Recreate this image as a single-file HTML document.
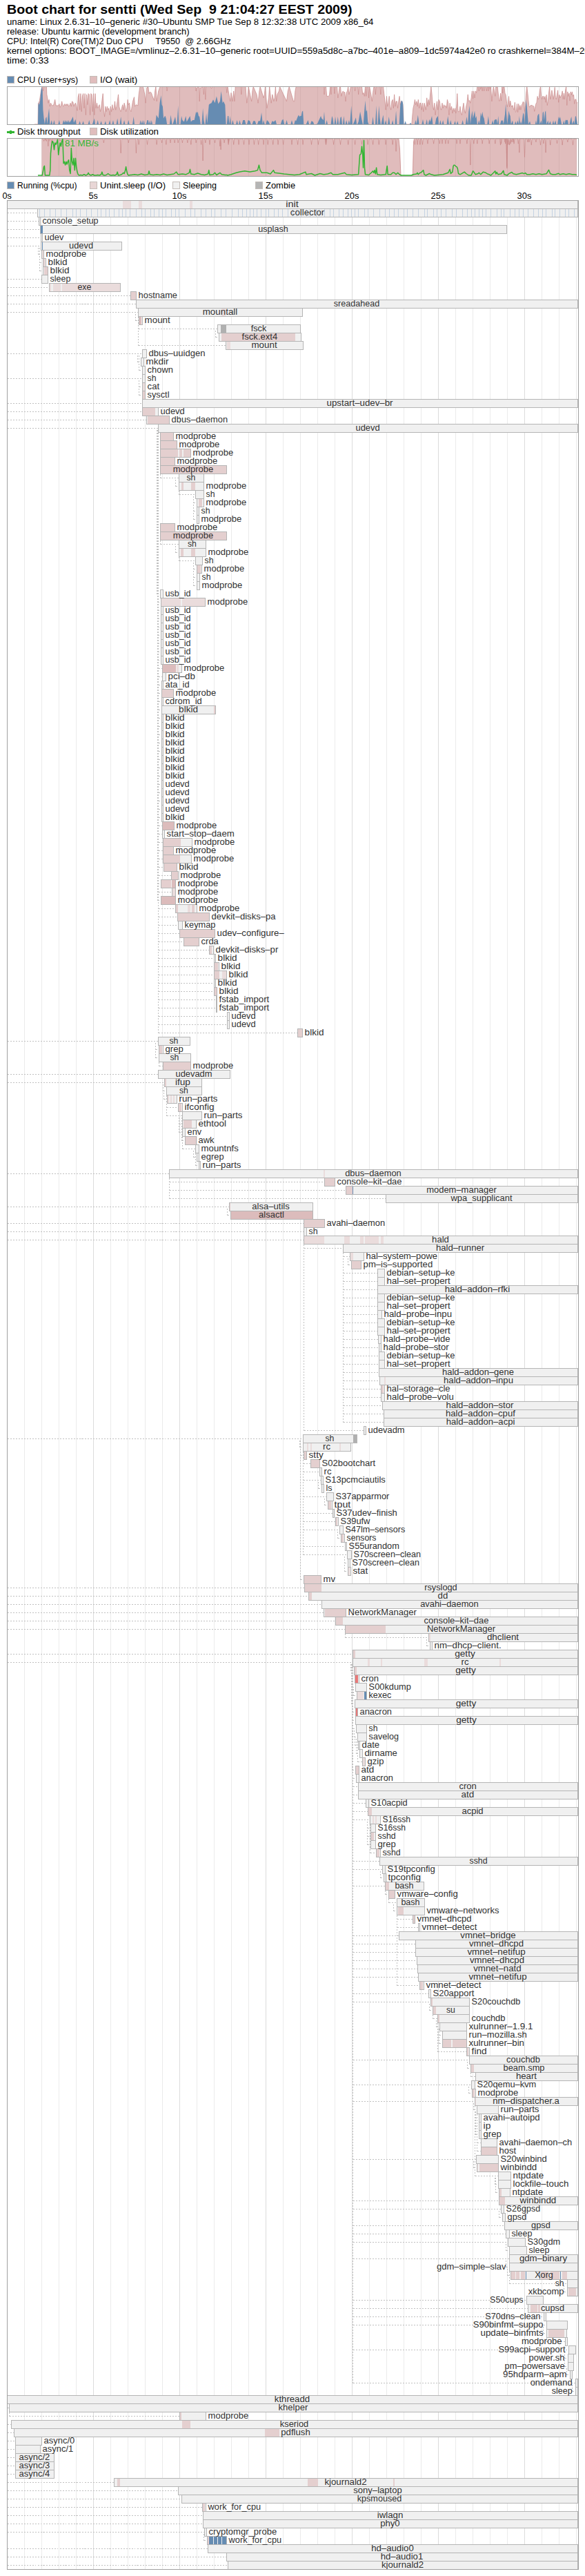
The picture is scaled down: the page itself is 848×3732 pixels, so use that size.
<!DOCTYPE html>
<html><head><meta charset="utf-8"><title>Boot chart</title>
<style>html,body{margin:0;padding:0;background:#fff;width:848px;height:3732px;overflow:hidden}svg{display:block}text{font-family:"Liberation Sans",sans-serif;white-space:pre}</style>
</head><body>
<svg width="848" height="3732" viewBox="0 0 848 3732" font-family='"Liberation Sans", sans-serif' font-size="12.5" shape-rendering="crispEdges">
<rect x="0" y="0" width="848" height="3732" fill="#fff"/>
<text x="10.0" y="20.0" textLength="500.5" lengthAdjust="spacingAndGlyphs" font-size="18.5" font-weight="bold">Boot chart for sentti (Wed Sep  9 21:04:27 EEST 2009)</text>
<text x="10.0" y="36.0" textLength="531.5" lengthAdjust="spacingAndGlyphs">uname: Linux 2.6.31–10–generic #30–Ubuntu SMP Tue Sep 8 12:32:38 UTC 2009 x86_64</text>
<text x="10.0" y="50.0" textLength="264.6" lengthAdjust="spacingAndGlyphs">release: Ubuntu karmic (development branch)</text>
<text x="10.0" y="64.0" textLength="324.8" lengthAdjust="spacingAndGlyphs">CPU: Intel(R) Core(TM)2 Duo CPU     T9550  @ 2.66GHz</text>
<text x="10.0" y="78.0" textLength="991.8" lengthAdjust="spacingAndGlyphs">kernel options: BOOT_IMAGE=/vmlinuz–2.6.31–10–generic root=UUID=559a5d8c–a7bc–401e–a809–1dc5974a42e0 ro crashkernel=384M–2G:64M@16M quiet splash</text>
<text x="10.0" y="92.0" textLength="60.8" lengthAdjust="spacingAndGlyphs">time: 0:33</text>
<rect x="10.5" y="110.5" width="10" height="10" fill="rgb(102,140,178)" stroke="#c4bcb8"/>
<text x="25.0" y="120.0" textLength="88.2" lengthAdjust="spacingAndGlyphs">CPU (user+sys)</text>
<rect x="130.5" y="110.5" width="10" height="10" fill="rgb(224,189,189)" stroke="#c4bcb8"/>
<text x="145.0" y="120.0" textLength="54.1" lengthAdjust="spacingAndGlyphs">I/O (wait)</text>
<rect x="10" y="125" width="828" height="55" fill="#fff"/>
<line x1="35.5" y1="126" x2="35.5" y2="180" stroke="#ebebeb" stroke-width="1"/>
<line x1="60.5" y1="126" x2="60.5" y2="180" stroke="#ebebeb" stroke-width="1"/>
<line x1="85.5" y1="126" x2="85.5" y2="180" stroke="#ebebeb" stroke-width="1"/>
<line x1="110.5" y1="126" x2="110.5" y2="180" stroke="#ebebeb" stroke-width="1"/>
<line x1="135.5" y1="126" x2="135.5" y2="180" stroke="#dcdcdc" stroke-width="1"/>
<line x1="160.5" y1="126" x2="160.5" y2="180" stroke="#ebebeb" stroke-width="1"/>
<line x1="185.5" y1="126" x2="185.5" y2="180" stroke="#ebebeb" stroke-width="1"/>
<line x1="210.5" y1="126" x2="210.5" y2="180" stroke="#ebebeb" stroke-width="1"/>
<line x1="235.5" y1="126" x2="235.5" y2="180" stroke="#ebebeb" stroke-width="1"/>
<line x1="260.5" y1="126" x2="260.5" y2="180" stroke="#dcdcdc" stroke-width="1"/>
<line x1="285.5" y1="126" x2="285.5" y2="180" stroke="#ebebeb" stroke-width="1"/>
<line x1="310.5" y1="126" x2="310.5" y2="180" stroke="#ebebeb" stroke-width="1"/>
<line x1="335.5" y1="126" x2="335.5" y2="180" stroke="#ebebeb" stroke-width="1"/>
<line x1="360.5" y1="126" x2="360.5" y2="180" stroke="#ebebeb" stroke-width="1"/>
<line x1="385.5" y1="126" x2="385.5" y2="180" stroke="#dcdcdc" stroke-width="1"/>
<line x1="410.5" y1="126" x2="410.5" y2="180" stroke="#ebebeb" stroke-width="1"/>
<line x1="435.5" y1="126" x2="435.5" y2="180" stroke="#ebebeb" stroke-width="1"/>
<line x1="460.5" y1="126" x2="460.5" y2="180" stroke="#ebebeb" stroke-width="1"/>
<line x1="485.5" y1="126" x2="485.5" y2="180" stroke="#ebebeb" stroke-width="1"/>
<line x1="510.5" y1="126" x2="510.5" y2="180" stroke="#dcdcdc" stroke-width="1"/>
<line x1="535.5" y1="126" x2="535.5" y2="180" stroke="#ebebeb" stroke-width="1"/>
<line x1="560.5" y1="126" x2="560.5" y2="180" stroke="#ebebeb" stroke-width="1"/>
<line x1="585.5" y1="126" x2="585.5" y2="180" stroke="#ebebeb" stroke-width="1"/>
<line x1="610.5" y1="126" x2="610.5" y2="180" stroke="#ebebeb" stroke-width="1"/>
<line x1="635.5" y1="126" x2="635.5" y2="180" stroke="#dcdcdc" stroke-width="1"/>
<line x1="660.5" y1="126" x2="660.5" y2="180" stroke="#ebebeb" stroke-width="1"/>
<line x1="685.5" y1="126" x2="685.5" y2="180" stroke="#ebebeb" stroke-width="1"/>
<line x1="710.5" y1="126" x2="710.5" y2="180" stroke="#ebebeb" stroke-width="1"/>
<line x1="735.5" y1="126" x2="735.5" y2="180" stroke="#ebebeb" stroke-width="1"/>
<line x1="760.5" y1="126" x2="760.5" y2="180" stroke="#dcdcdc" stroke-width="1"/>
<line x1="785.5" y1="126" x2="785.5" y2="180" stroke="#ebebeb" stroke-width="1"/>
<line x1="810.5" y1="126" x2="810.5" y2="180" stroke="#ebebeb" stroke-width="1"/>
<line x1="835.5" y1="126" x2="835.5" y2="180" stroke="#ebebeb" stroke-width="1"/>
<g shape-rendering="auto"><polygon points="50.0,180.0 50.0,180.0 55.0,180.0 55.5,149.3 56.2,149.3 57.4,145.5 58.7,136.9 59.9,129.4 61.2,125.5 61.7,125.5 62.4,131.9 63.1,125.5 63.6,125.5 64.9,125.5 66.1,125.5 67.4,125.5 67.8,136.9 68.6,140.6 69.8,149.3 71.1,144.3 72.3,154.2 73.5,149.3 74.8,151.7 76.0,153.0 77.3,153.0 78.5,149.3 79.7,144.3 81.0,153.0 82.2,153.0 83.5,153.0 84.7,153.0 85.9,150.5 87.2,155.5 88.4,153.0 89.7,146.8 90.9,153.0 92.1,154.2 93.4,150.5 94.6,153.0 95.9,150.5 97.1,153.0 98.3,150.5 99.6,154.2 100.8,153.0 102.1,149.3 103.3,154.2 104.5,146.8 105.8,148.0 107.0,154.2 108.3,150.5 109.5,149.3 110.7,153.0 112.0,160.4 113.2,140.6 114.5,135.6 115.7,159.2 116.9,135.6 118.2,161.7 119.4,139.4 120.6,135.6 121.9,156.7 123.1,135.6 124.4,166.6 125.6,136.9 126.8,151.7 128.1,135.6 129.3,136.9 130.6,166.6 131.8,135.6 133.0,136.9 134.3,161.7 135.5,135.6 136.8,166.6 138.0,135.6 139.2,156.7 140.5,149.3 141.7,156.7 143.0,154.2 144.2,151.7 145.4,161.7 146.7,156.7 147.9,145.5 149.2,135.6 150.4,159.2 151.6,169.1 152.9,154.2 154.1,161.7 155.4,154.2 156.6,159.2 157.8,156.7 159.1,166.6 160.3,154.2 161.6,161.7 162.8,151.7 164.0,159.2 165.3,156.7 166.5,146.8 167.7,159.2 169.0,154.2 170.2,146.8 171.5,136.9 172.7,154.2 173.9,159.2 175.2,161.7 176.4,156.7 177.7,151.7 178.9,159.2 180.1,149.3 181.4,154.2 182.6,161.7 183.9,156.7 185.1,144.3 186.3,151.7 187.6,149.3 188.8,159.2 190.0,161.7 192.5,146.8 194.5,140.6 195.5,154.2 197.4,151.7 199.9,153.0 201.2,136.9 202.9,125.5 204.9,125.5 207.4,125.5 209.8,136.9 211.1,149.3 212.8,127.0 214.8,125.5 216.0,135.6 217.3,133.2 219.3,134.4 221.0,139.4 223.5,145.5 224.7,131.9 225.9,125.5 227.2,146.8 229.7,131.9 232.1,125.5 239.6,125.5 241.4,125.5 242.1,131.9 242.8,125.5 243.3,125.5 283.0,125.5 283.5,125.5 284.2,131.9 284.9,127.0 285.4,127.0 287.9,125.5 288.5,125.5 289.2,146.8 289.9,127.0 291.6,127.0 294.1,125.5 294.7,125.5 295.4,136.9 296.1,125.5 296.6,125.5 297.1,125.5 297.8,144.3 298.5,125.5 300.3,125.5 305.3,125.5 306.5,128.2 307.7,125.5 327.6,125.5 328.1,125.5 328.8,134.4 329.5,125.5 330.0,125.5 333.7,146.8 335.0,134.4 336.9,146.8 338.7,131.9 339.9,146.8 341.2,125.5 348.6,125.5 349.1,125.5 349.8,136.9 350.5,125.5 351.1,125.5 356.0,125.5 357.8,149.3 359.3,136.9 360.2,125.5 363.5,141.8 364.7,146.8 365.9,131.9 367.2,125.5 372.1,136.9 374.1,149.3 375.9,131.9 377.1,125.5 382.1,141.8 383.3,136.9 384.5,125.5 387.0,156.7 389.5,141.8 390.7,125.5 393.2,149.3 394.9,136.9 396.9,146.8 398.2,141.8 399.4,125.5 400.6,146.8 401.9,136.9 404.4,131.9 405.6,125.5 415.5,146.8 417.3,131.9 419.2,125.5 425.4,146.8 426.7,146.8 427.9,131.9 429.2,125.5 468.8,125.5 469.3,125.5 470.0,136.9 470.7,125.5 472.5,125.5 473.7,139.4 476.2,139.4 477.4,138.1 478.7,125.5 479.2,125.5 479.9,136.9 480.6,125.5 481.2,125.5 483.6,125.5 484.2,125.5 484.9,135.6 485.6,125.5 486.1,125.5 488.6,125.5 489.8,141.8 491.1,134.4 492.3,125.5 493.5,125.5 494.8,139.4 496.0,134.4 497.3,131.9 498.5,134.4 499.7,133.2 501.0,146.8 502.2,134.4 503.5,131.9 504.7,125.5 505.9,136.9 507.2,131.9 508.4,125.5 510.9,125.5 513.4,125.5 513.9,125.5 514.6,131.9 515.3,125.5 517.1,125.5 518.9,125.5 519.6,136.9 520.3,125.5 520.8,125.5 524.5,125.5 525.8,136.9 527.0,134.4 528.3,139.4 529.5,125.5 530.0,125.5 530.7,139.4 531.4,125.5 532.0,125.5 533.8,125.5 534.5,141.8 535.2,125.5 535.7,125.5 538.2,139.4 539.4,146.8 540.6,134.4 541.9,125.5 543.7,125.5 544.4,136.9 545.1,125.5 545.6,125.5 549.3,125.5 551.1,125.5 551.8,136.9 552.5,125.5 554.3,125.5 555.5,125.5 558.0,146.8 559.2,159.2 560.5,139.4 561.7,154.2 563.0,149.3 564.2,139.4 565.4,154.2 566.7,159.2 567.9,146.8 569.2,144.3 570.4,156.7 571.6,136.9 572.9,154.2 574.1,146.8 575.4,146.8 576.6,156.7 577.8,146.8 579.1,139.4 580.3,151.7 581.6,146.8 582.8,146.8 584.0,151.7 585.0,180.0 596.9,180.0 597.7,169.1 598.9,156.7 600.1,151.7 601.4,144.3 602.6,151.7 603.9,146.8 605.1,154.2 606.3,144.3 607.6,156.7 608.8,149.3 610.0,149.3 611.2,159.2 612.5,149.3 613.7,161.7 615.0,149.3 616.2,154.2 617.4,159.2 618.7,141.8 619.9,154.2 621.2,144.3 622.4,151.7 623.6,136.9 624.9,125.5 626.1,136.9 627.4,154.2 628.6,159.2 629.8,149.3 631.1,166.6 632.3,154.2 633.5,146.8 634.8,159.2 636.0,144.3 637.3,146.8 638.5,156.7 639.7,159.2 641.0,149.3 642.2,156.7 643.5,151.7 644.7,154.2 645.9,153.0 647.2,156.7 648.4,144.3 649.7,149.3 650.9,166.6 652.1,149.3 653.4,159.2 654.6,154.2 655.9,164.1 657.1,156.7 658.3,161.7 659.6,156.7 660.8,164.1 662.1,149.3 662.8,135.6 664.0,161.7 665.8,161.7 667.0,154.2 668.3,164.1 669.5,166.6 670.7,156.7 672.0,149.3 673.2,159.2 674.5,164.1 675.7,154.2 676.9,149.3 678.2,136.9 679.4,146.8 680.6,145.5 681.9,149.3 683.1,141.8 684.4,131.9 685.6,143.1 686.8,131.9 688.1,141.8 689.3,131.9 690.6,134.4 691.8,125.5 693.0,125.5 693.6,125.5 694.3,131.9 695.0,125.5 695.5,125.5 696.1,125.5 696.8,129.4 697.5,125.5 698.0,125.5 698.5,125.5 699.2,131.9 699.9,125.5 700.5,125.5 701.0,125.5 701.7,131.9 702.4,125.5 703.0,125.5 704.2,125.5 704.7,125.5 705.4,131.9 706.1,125.5 706.7,125.5 707.2,125.5 707.9,131.9 708.6,125.5 709.2,125.5 709.7,125.5 710.4,129.4 711.1,125.5 711.6,125.5 712.9,146.8 714.1,134.4 715.4,125.5 716.6,131.9 717.8,139.4 718.8,125.5 719.1,125.5 720.0,126.4 721.1,125.5 722.2,135.1 723.3,146.1 724.4,146.1 725.5,135.1 726.6,146.1 727.7,125.5 728.1,125.5 728.8,135.1 729.5,125.5 729.8,125.5 730.9,125.5 732.0,135.1 733.1,137.3 734.2,146.1 735.3,154.8 736.4,150.4 737.5,139.5 738.6,154.8 739.7,146.1 740.8,152.6 741.9,154.8 743.0,152.6 744.1,157.0 745.2,159.2 746.3,148.3 747.4,162.5 748.4,161.4 749.5,150.4 750.6,162.5 751.7,150.4 752.8,159.2 753.9,152.6 755.0,159.2 756.1,152.6 757.2,150.4 758.3,147.2 759.4,148.3 760.5,161.4 761.6,152.6 762.7,135.1 763.8,125.5 764.9,135.1 766.0,146.1 767.0,154.8 768.1,154.8 769.2,152.6 770.3,152.6 771.4,152.6 772.5,153.7 773.6,153.7 774.7,161.4 775.8,154.8 776.9,150.4 778.0,148.3 779.1,139.5 780.2,143.9 781.3,141.7 782.4,130.8 783.5,125.5 784.6,139.5 785.6,143.9 786.7,139.5 787.8,139.5 788.9,143.9 790.0,139.5 791.1,148.3 792.2,137.3 793.3,152.6 794.4,146.1 795.5,135.1 796.6,125.5 797.7,143.9 798.8,139.5 799.9,130.8 801.0,137.3 802.1,143.9 803.2,137.3 804.2,126.4 805.3,141.7 806.4,143.9 807.5,137.3 808.6,130.8 809.7,148.3 810.8,137.3 811.9,141.7 813.0,139.5 814.1,137.3 815.2,131.8 816.3,143.9 817.4,135.1 818.5,143.9 819.6,130.8 820.7,125.5 821.8,152.6 822.8,132.9 823.9,139.5 825.0,135.1 826.1,146.1 827.2,132.9 828.3,137.3 829.4,132.9 830.5,139.5 831.6,137.3 832.7,150.4 833.8,143.9 834.9,143.9 836.0,149.4 837.1,148.3 837.1,180.0" fill="rgb(194,122,122)" fill-opacity="0.5"/>
<polyline points="50.0,180.0 55.0,180.0 55.5,149.3 56.2,149.3 57.4,145.5 58.7,136.9 59.9,129.4 61.2,125.5 61.7,125.5 62.4,131.9 63.1,125.5 63.6,125.5 64.9,125.5 66.1,125.5 67.4,125.5 67.8,136.9 68.6,140.6 69.8,149.3 71.1,144.3 72.3,154.2 73.5,149.3 74.8,151.7 76.0,153.0 77.3,153.0 78.5,149.3 79.7,144.3 81.0,153.0 82.2,153.0 83.5,153.0 84.7,153.0 85.9,150.5 87.2,155.5 88.4,153.0 89.7,146.8 90.9,153.0 92.1,154.2 93.4,150.5 94.6,153.0 95.9,150.5 97.1,153.0 98.3,150.5 99.6,154.2 100.8,153.0 102.1,149.3 103.3,154.2 104.5,146.8 105.8,148.0 107.0,154.2 108.3,150.5 109.5,149.3 110.7,153.0 112.0,160.4 113.2,140.6 114.5,135.6 115.7,159.2 116.9,135.6 118.2,161.7 119.4,139.4 120.6,135.6 121.9,156.7 123.1,135.6 124.4,166.6 125.6,136.9 126.8,151.7 128.1,135.6 129.3,136.9 130.6,166.6 131.8,135.6 133.0,136.9 134.3,161.7 135.5,135.6 136.8,166.6 138.0,135.6 139.2,156.7 140.5,149.3 141.7,156.7 143.0,154.2 144.2,151.7 145.4,161.7 146.7,156.7 147.9,145.5 149.2,135.6 150.4,159.2 151.6,169.1 152.9,154.2 154.1,161.7 155.4,154.2 156.6,159.2 157.8,156.7 159.1,166.6 160.3,154.2 161.6,161.7 162.8,151.7 164.0,159.2 165.3,156.7 166.5,146.8 167.7,159.2 169.0,154.2 170.2,146.8 171.5,136.9 172.7,154.2 173.9,159.2 175.2,161.7 176.4,156.7 177.7,151.7 178.9,159.2 180.1,149.3 181.4,154.2 182.6,161.7 183.9,156.7 185.1,144.3 186.3,151.7 187.6,149.3 188.8,159.2 190.0,161.7 192.5,146.8 194.5,140.6 195.5,154.2 197.4,151.7 199.9,153.0 201.2,136.9 202.9,125.5 204.9,125.5 207.4,125.5 209.8,136.9 211.1,149.3 212.8,127.0 214.8,125.5 216.0,135.6 217.3,133.2 219.3,134.4 221.0,139.4 223.5,145.5 224.7,131.9 225.9,125.5 227.2,146.8 229.7,131.9 232.1,125.5 239.6,125.5 241.4,125.5 242.1,131.9 242.8,125.5 243.3,125.5 283.0,125.5 283.5,125.5 284.2,131.9 284.9,127.0 285.4,127.0 287.9,125.5 288.5,125.5 289.2,146.8 289.9,127.0 291.6,127.0 294.1,125.5 294.7,125.5 295.4,136.9 296.1,125.5 296.6,125.5 297.1,125.5 297.8,144.3 298.5,125.5 300.3,125.5 305.3,125.5 306.5,128.2 307.7,125.5 327.6,125.5 328.1,125.5 328.8,134.4 329.5,125.5 330.0,125.5 333.7,146.8 335.0,134.4 336.9,146.8 338.7,131.9 339.9,146.8 341.2,125.5 348.6,125.5 349.1,125.5 349.8,136.9 350.5,125.5 351.1,125.5 356.0,125.5 357.8,149.3 359.3,136.9 360.2,125.5 363.5,141.8 364.7,146.8 365.9,131.9 367.2,125.5 372.1,136.9 374.1,149.3 375.9,131.9 377.1,125.5 382.1,141.8 383.3,136.9 384.5,125.5 387.0,156.7 389.5,141.8 390.7,125.5 393.2,149.3 394.9,136.9 396.9,146.8 398.2,141.8 399.4,125.5 400.6,146.8 401.9,136.9 404.4,131.9 405.6,125.5 415.5,146.8 417.3,131.9 419.2,125.5 425.4,146.8 426.7,146.8 427.9,131.9 429.2,125.5 468.8,125.5 469.3,125.5 470.0,136.9 470.7,125.5 472.5,125.5 473.7,139.4 476.2,139.4 477.4,138.1 478.7,125.5 479.2,125.5 479.9,136.9 480.6,125.5 481.2,125.5 483.6,125.5 484.2,125.5 484.9,135.6 485.6,125.5 486.1,125.5 488.6,125.5 489.8,141.8 491.1,134.4 492.3,125.5 493.5,125.5 494.8,139.4 496.0,134.4 497.3,131.9 498.5,134.4 499.7,133.2 501.0,146.8 502.2,134.4 503.5,131.9 504.7,125.5 505.9,136.9 507.2,131.9 508.4,125.5 510.9,125.5 513.4,125.5 513.9,125.5 514.6,131.9 515.3,125.5 517.1,125.5 518.9,125.5 519.6,136.9 520.3,125.5 520.8,125.5 524.5,125.5 525.8,136.9 527.0,134.4 528.3,139.4 529.5,125.5 530.0,125.5 530.7,139.4 531.4,125.5 532.0,125.5 533.8,125.5 534.5,141.8 535.2,125.5 535.7,125.5 538.2,139.4 539.4,146.8 540.6,134.4 541.9,125.5 543.7,125.5 544.4,136.9 545.1,125.5 545.6,125.5 549.3,125.5 551.1,125.5 551.8,136.9 552.5,125.5 554.3,125.5 555.5,125.5 558.0,146.8 559.2,159.2 560.5,139.4 561.7,154.2 563.0,149.3 564.2,139.4 565.4,154.2 566.7,159.2 567.9,146.8 569.2,144.3 570.4,156.7 571.6,136.9 572.9,154.2 574.1,146.8 575.4,146.8 576.6,156.7 577.8,146.8 579.1,139.4 580.3,151.7 581.6,146.8 582.8,146.8 584.0,151.7 585.0,180.0 596.9,180.0 597.7,169.1 598.9,156.7 600.1,151.7 601.4,144.3 602.6,151.7 603.9,146.8 605.1,154.2 606.3,144.3 607.6,156.7 608.8,149.3 610.0,149.3 611.2,159.2 612.5,149.3 613.7,161.7 615.0,149.3 616.2,154.2 617.4,159.2 618.7,141.8 619.9,154.2 621.2,144.3 622.4,151.7 623.6,136.9 624.9,125.5 626.1,136.9 627.4,154.2 628.6,159.2 629.8,149.3 631.1,166.6 632.3,154.2 633.5,146.8 634.8,159.2 636.0,144.3 637.3,146.8 638.5,156.7 639.7,159.2 641.0,149.3 642.2,156.7 643.5,151.7 644.7,154.2 645.9,153.0 647.2,156.7 648.4,144.3 649.7,149.3 650.9,166.6 652.1,149.3 653.4,159.2 654.6,154.2 655.9,164.1 657.1,156.7 658.3,161.7 659.6,156.7 660.8,164.1 662.1,149.3 662.8,135.6 664.0,161.7 665.8,161.7 667.0,154.2 668.3,164.1 669.5,166.6 670.7,156.7 672.0,149.3 673.2,159.2 674.5,164.1 675.7,154.2 676.9,149.3 678.2,136.9 679.4,146.8 680.6,145.5 681.9,149.3 683.1,141.8 684.4,131.9 685.6,143.1 686.8,131.9 688.1,141.8 689.3,131.9 690.6,134.4 691.8,125.5 693.0,125.5 693.6,125.5 694.3,131.9 695.0,125.5 695.5,125.5 696.1,125.5 696.8,129.4 697.5,125.5 698.0,125.5 698.5,125.5 699.2,131.9 699.9,125.5 700.5,125.5 701.0,125.5 701.7,131.9 702.4,125.5 703.0,125.5 704.2,125.5 704.7,125.5 705.4,131.9 706.1,125.5 706.7,125.5 707.2,125.5 707.9,131.9 708.6,125.5 709.2,125.5 709.7,125.5 710.4,129.4 711.1,125.5 711.6,125.5 712.9,146.8 714.1,134.4 715.4,125.5 716.6,131.9 717.8,139.4 718.8,125.5 719.1,125.5 720.0,126.4 721.1,125.5 722.2,135.1 723.3,146.1 724.4,146.1 725.5,135.1 726.6,146.1 727.7,125.5 728.1,125.5 728.8,135.1 729.5,125.5 729.8,125.5 730.9,125.5 732.0,135.1 733.1,137.3 734.2,146.1 735.3,154.8 736.4,150.4 737.5,139.5 738.6,154.8 739.7,146.1 740.8,152.6 741.9,154.8 743.0,152.6 744.1,157.0 745.2,159.2 746.3,148.3 747.4,162.5 748.4,161.4 749.5,150.4 750.6,162.5 751.7,150.4 752.8,159.2 753.9,152.6 755.0,159.2 756.1,152.6 757.2,150.4 758.3,147.2 759.4,148.3 760.5,161.4 761.6,152.6 762.7,135.1 763.8,125.5 764.9,135.1 766.0,146.1 767.0,154.8 768.1,154.8 769.2,152.6 770.3,152.6 771.4,152.6 772.5,153.7 773.6,153.7 774.7,161.4 775.8,154.8 776.9,150.4 778.0,148.3 779.1,139.5 780.2,143.9 781.3,141.7 782.4,130.8 783.5,125.5 784.6,139.5 785.6,143.9 786.7,139.5 787.8,139.5 788.9,143.9 790.0,139.5 791.1,148.3 792.2,137.3 793.3,152.6 794.4,146.1 795.5,135.1 796.6,125.5 797.7,143.9 798.8,139.5 799.9,130.8 801.0,137.3 802.1,143.9 803.2,137.3 804.2,126.4 805.3,141.7 806.4,143.9 807.5,137.3 808.6,130.8 809.7,148.3 810.8,137.3 811.9,141.7 813.0,139.5 814.1,137.3 815.2,131.8 816.3,143.9 817.4,135.1 818.5,143.9 819.6,130.8 820.7,125.5 821.8,152.6 822.8,132.9 823.9,139.5 825.0,135.1 826.1,146.1 827.2,132.9 828.3,137.3 829.4,132.9 830.5,139.5 831.6,137.3 832.7,150.4 833.8,143.9 834.9,143.9 836.0,149.4 837.1,148.3" fill="none" stroke="rgb(200,136,136)" stroke-width="0.7"/>
<polygon points="50.0,180.0 50.0,180.0 55.0,180.0 55.5,149.3 56.9,151.7 58.2,145.5 59.4,131.9 60.7,125.5 61.7,131.9 62.4,159.2 63.6,171.6 64.9,180.0 66.1,171.6 67.4,169.1 68.6,180.0 69.8,166.6 71.1,156.7 72.3,180.0 73.2,180.0 74.8,174.1 76.0,180.0 76.9,180.0 78.5,174.1 79.7,180.0 84.3,180.0 85.9,174.1 87.2,180.0 90.5,180.0 92.1,174.1 93.4,177.8 94.6,174.1 95.9,177.8 97.1,174.1 98.3,177.8 99.6,174.1 100.8,177.8 103.3,174.1 105.8,169.1 107.0,177.8 109.5,172.8 110.7,180.0 114.1,180.0 115.7,175.3 116.9,180.0 119.0,180.0 120.6,175.3 121.9,180.0 127.7,180.0 129.3,174.1 130.6,180.0 133.9,180.0 135.5,175.3 136.8,171.6 138.0,180.0 140.1,180.0 141.7,174.1 143.0,180.0 145.1,180.0 146.7,175.3 147.9,180.0 151.3,180.0 152.9,175.3 154.1,180.0 157.5,180.0 159.1,174.1 160.3,180.0 162.4,180.0 164.0,174.1 165.3,180.0 168.6,180.0 170.2,171.6 171.5,180.0 173.6,180.0 175.2,169.1 176.4,180.0 178.5,180.0 180.1,174.1 181.4,180.0 184.7,180.0 186.3,174.1 187.6,180.0 188.8,180.0 190.0,180.0 191.2,180.0 192.1,180.0 193.7,169.1 195.0,180.0 202.4,180.0 203.6,174.1 204.9,180.0 206.1,174.1 207.4,180.0 208.6,174.1 209.8,180.0 211.9,180.0 213.5,174.1 214.8,174.1 216.0,180.0 217.3,174.1 218.5,180.0 219.7,174.1 221.0,180.0 225.1,180.0 226.7,166.6 229.7,171.6 231.6,149.3 233.4,138.1 234.6,151.7 235.9,154.2 237.1,171.6 238.3,169.1 239.6,167.9 240.8,171.6 242.1,180.0 245.9,180.0 247.5,166.6 249.5,180.0 250.4,180.0 252.0,175.3 254.0,169.1 255.7,180.0 256.6,180.0 258.2,153.0 259.4,180.0 261.5,180.0 263.1,167.9 264.4,174.1 266.8,176.5 269.3,167.9 270.6,176.5 275.5,167.9 276.8,176.5 279.2,174.1 281.7,174.1 284.2,161.7 285.4,164.1 286.7,161.7 287.9,167.9 289.2,169.1 290.8,180.0 291.6,180.0 292.5,180.0 294.1,156.7 295.4,174.1 296.6,180.0 297.5,180.0 299.1,164.1 300.3,179.0 302.8,151.7 304.0,150.5 306.5,149.3 309.0,144.3 311.5,149.3 313.9,139.4 316.4,150.5 318.9,146.8 320.6,131.9 322.6,149.3 323.9,146.8 326.3,151.7 327.6,180.0 328.8,180.0 330.0,167.9 331.2,167.9 332.5,180.0 333.7,167.9 335.0,180.0 335.8,180.0 337.4,174.1 339.0,180.0 339.9,180.0 342.0,180.0 343.6,174.1 345.2,180.0 346.1,180.0 347.4,174.1 349.0,180.0 349.8,180.0 350.7,180.0 352.3,174.1 354.8,174.1 356.4,180.0 357.3,180.0 358.1,180.0 359.7,174.1 362.2,175.3 363.8,180.0 364.7,180.0 365.6,180.0 367.2,175.3 369.7,175.3 371.3,180.0 372.1,180.0 373.0,180.0 374.6,175.3 377.1,175.3 379.1,162.9 380.8,180.0 382.1,174.1 383.7,180.0 384.5,180.0 385.4,180.0 387.0,174.1 389.5,176.5 391.1,180.0 392.0,180.0 392.9,180.0 394.5,175.3 396.9,176.5 399.4,174.1 401.0,180.0 401.9,180.0 406.8,180.0 408.8,174.1 410.6,172.8 412.2,180.0 413.0,180.0 413.9,180.0 415.5,174.1 417.1,180.0 418.0,180.0 421.4,180.0 423.0,174.1 424.6,180.0 425.4,180.0 426.3,180.0 427.9,174.1 429.2,175.3 431.6,169.1 432.9,166.6 434.1,169.1 435.4,167.9 436.6,167.9 437.8,161.7 439.1,160.4 440.3,180.0 443.7,180.0 445.3,176.5 446.5,174.1 448.1,180.0 449.0,180.0 449.9,180.0 451.5,175.3 453.9,176.5 455.2,180.0 458.5,180.0 460.1,179.0 465.1,167.9 466.3,171.6 468.8,174.1 470.0,161.7 471.2,180.0 472.1,180.0 473.7,174.1 475.0,180.0 479.6,180.0 481.2,167.9 482.4,171.6 483.6,180.0 484.5,180.0 486.1,169.1 487.4,180.0 488.2,180.0 489.8,169.1 491.1,180.0 491.9,180.0 493.5,170.3 494.8,169.1 496.0,180.0 496.9,180.0 498.5,167.9 499.7,180.0 500.6,180.0 502.2,174.1 503.5,180.0 504.3,180.0 505.9,174.1 507.2,180.0 509.2,153.0 510.9,180.0 511.8,180.0 513.4,176.5 515.9,170.3 517.1,180.0 518.0,180.0 519.6,176.5 522.1,161.7 524.0,171.6 525.8,180.0 526.7,180.0 528.3,159.2 529.5,145.5 530.7,161.7 532.0,159.2 533.2,176.5 534.5,180.0 539.0,180.0 540.6,169.1 541.9,180.0 544.0,180.0 545.6,153.0 546.8,180.0 547.7,180.0 549.3,153.0 550.6,171.6 551.8,180.0 552.7,180.0 554.3,171.6 555.5,166.6 556.8,180.0 557.6,180.0 559.2,174.1 560.5,180.0 562.1,180.0 563.7,169.1 565.4,180.0 567.6,180.0 569.2,174.1 570.4,180.0 572.5,180.0 574.1,160.4 575.4,180.0 578.7,180.0 580.3,151.7 581.6,146.8 582.8,145.5 584.0,149.3 585.3,180.0 586.1,180.0 587.7,175.3 589.0,180.0 593.6,180.0 595.2,177.8 596.4,180.0 601.0,180.0 602.6,174.1 603.9,180.0 605.8,166.6 607.6,180.0 608.8,180.0 610.0,180.0 611.4,180.0 613.0,172.8 614.5,180.0 617.1,180.0 618.7,172.8 619.9,180.0 620.8,180.0 622.4,172.8 623.6,176.5 626.1,167.9 627.4,180.0 630.7,180.0 632.3,171.6 634.8,167.9 636.0,180.0 636.9,180.0 638.5,174.1 639.7,180.0 640.6,180.0 642.2,174.1 643.5,180.0 647.6,180.0 649.2,167.9 650.9,180.0 651.8,180.0 653.4,174.1 654.6,180.0 658.0,180.0 659.6,175.3 660.8,180.0 661.7,180.0 663.3,175.3 664.5,180.0 669.1,180.0 670.7,174.1 672.0,180.0 674.8,180.0 676.4,169.1 678.2,180.0 679.4,161.7 680.6,153.0 681.9,180.0 683.1,169.1 684.4,160.4 685.6,171.6 686.8,166.6 688.1,160.4 689.3,171.6 690.6,167.9 691.8,180.0 692.7,180.0 694.3,174.1 695.5,180.0 696.8,162.9 698.0,169.1 699.2,161.7 700.5,169.1 701.7,171.6 703.0,180.0 706.3,180.0 707.9,167.9 709.2,180.0 712.5,180.0 714.1,174.1 715.4,180.0 716.6,174.1 718.8,172.8 719.1,172.8 720.0,173.4 721.1,180.0 722.2,168.0 723.3,180.0 725.0,180.0 726.6,174.5 728.8,174.5 729.8,180.0 732.0,165.8 733.1,150.4 734.2,165.8 735.3,180.0 737.5,160.3 738.6,165.8 739.7,168.0 740.8,180.0 743.0,174.5 744.1,180.0 745.8,180.0 747.4,175.6 748.4,180.0 750.6,174.5 751.7,180.0 752.8,168.0 753.9,180.0 755.0,175.6 756.1,180.0 758.3,163.6 759.4,165.8 760.5,180.0 761.6,159.2 762.7,143.9 763.8,154.8 764.9,168.0 766.0,180.0 768.1,175.6 769.2,180.0 775.8,180.0 776.9,174.5 778.0,180.0 779.1,168.0 780.2,165.8 781.3,164.7 782.4,180.0 784.6,174.5 785.6,180.0 786.7,163.6 787.8,161.4 788.9,174.5 790.0,162.5 791.1,160.3 792.2,180.0 794.4,174.5 795.5,180.0 797.7,175.6 798.8,180.0 800.5,180.0 802.1,174.5 803.2,180.0 805.3,174.5 806.4,180.0 808.1,180.0 809.7,169.0 810.8,172.3 811.9,169.0 813.0,174.5 814.1,180.0 815.8,180.0 817.4,174.5 818.5,180.0 819.6,174.5 820.7,173.4 821.8,174.5 822.8,173.4 823.9,180.0 825.6,180.0 827.2,172.3 828.3,169.0 829.4,180.0 831.6,174.5 832.7,180.0 833.8,169.0 834.9,168.0 836.0,174.5 837.1,180.0 837.1,180.0" fill="rgb(102,140,178)"/></g>
<rect x="10.5" y="125.5" width="828" height="55" fill="none" stroke="#a1a1a1"/>
<line x1="10" y1="191.5" x2="21" y2="191.5" stroke="rgb(51,181,51)" stroke-width="3"/>
<rect x="14" y="189" width="3" height="5" fill="rgb(51,181,51)"/>
<text x="25.0" y="195.0" textLength="91.6" lengthAdjust="spacingAndGlyphs">Disk throughput</text>
<rect x="130.5" y="185.5" width="10" height="10" fill="rgb(224,189,189)" stroke="#c4bcb8"/>
<text x="145.0" y="195.0" textLength="85.0" lengthAdjust="spacingAndGlyphs">Disk utilization</text>
<line x1="35.5" y1="201" x2="35.5" y2="255" stroke="#ebebeb" stroke-width="1"/>
<line x1="60.5" y1="201" x2="60.5" y2="255" stroke="#ebebeb" stroke-width="1"/>
<line x1="85.5" y1="201" x2="85.5" y2="255" stroke="#ebebeb" stroke-width="1"/>
<line x1="110.5" y1="201" x2="110.5" y2="255" stroke="#ebebeb" stroke-width="1"/>
<line x1="135.5" y1="201" x2="135.5" y2="255" stroke="#dcdcdc" stroke-width="1"/>
<line x1="160.5" y1="201" x2="160.5" y2="255" stroke="#ebebeb" stroke-width="1"/>
<line x1="185.5" y1="201" x2="185.5" y2="255" stroke="#ebebeb" stroke-width="1"/>
<line x1="210.5" y1="201" x2="210.5" y2="255" stroke="#ebebeb" stroke-width="1"/>
<line x1="235.5" y1="201" x2="235.5" y2="255" stroke="#ebebeb" stroke-width="1"/>
<line x1="260.5" y1="201" x2="260.5" y2="255" stroke="#dcdcdc" stroke-width="1"/>
<line x1="285.5" y1="201" x2="285.5" y2="255" stroke="#ebebeb" stroke-width="1"/>
<line x1="310.5" y1="201" x2="310.5" y2="255" stroke="#ebebeb" stroke-width="1"/>
<line x1="335.5" y1="201" x2="335.5" y2="255" stroke="#ebebeb" stroke-width="1"/>
<line x1="360.5" y1="201" x2="360.5" y2="255" stroke="#ebebeb" stroke-width="1"/>
<line x1="385.5" y1="201" x2="385.5" y2="255" stroke="#dcdcdc" stroke-width="1"/>
<line x1="410.5" y1="201" x2="410.5" y2="255" stroke="#ebebeb" stroke-width="1"/>
<line x1="435.5" y1="201" x2="435.5" y2="255" stroke="#ebebeb" stroke-width="1"/>
<line x1="460.5" y1="201" x2="460.5" y2="255" stroke="#ebebeb" stroke-width="1"/>
<line x1="485.5" y1="201" x2="485.5" y2="255" stroke="#ebebeb" stroke-width="1"/>
<line x1="510.5" y1="201" x2="510.5" y2="255" stroke="#dcdcdc" stroke-width="1"/>
<line x1="535.5" y1="201" x2="535.5" y2="255" stroke="#ebebeb" stroke-width="1"/>
<line x1="560.5" y1="201" x2="560.5" y2="255" stroke="#ebebeb" stroke-width="1"/>
<line x1="585.5" y1="201" x2="585.5" y2="255" stroke="#ebebeb" stroke-width="1"/>
<line x1="610.5" y1="201" x2="610.5" y2="255" stroke="#ebebeb" stroke-width="1"/>
<line x1="635.5" y1="201" x2="635.5" y2="255" stroke="#dcdcdc" stroke-width="1"/>
<line x1="660.5" y1="201" x2="660.5" y2="255" stroke="#ebebeb" stroke-width="1"/>
<line x1="685.5" y1="201" x2="685.5" y2="255" stroke="#ebebeb" stroke-width="1"/>
<line x1="710.5" y1="201" x2="710.5" y2="255" stroke="#ebebeb" stroke-width="1"/>
<line x1="735.5" y1="201" x2="735.5" y2="255" stroke="#ebebeb" stroke-width="1"/>
<line x1="760.5" y1="201" x2="760.5" y2="255" stroke="#dcdcdc" stroke-width="1"/>
<line x1="785.5" y1="201" x2="785.5" y2="255" stroke="#ebebeb" stroke-width="1"/>
<line x1="810.5" y1="201" x2="810.5" y2="255" stroke="#ebebeb" stroke-width="1"/>
<line x1="835.5" y1="201" x2="835.5" y2="255" stroke="#ebebeb" stroke-width="1"/>
<g shape-rendering="auto"><polygon points="60.4,255.0 60.4,201.0 62.8,201.0 63.6,204.4 64.4,201.0 65.3,201.0 66.1,203.2 66.9,201.0 66.6,201.0 67.4,204.4 68.2,201.0 69.0,201.0 69.8,211.9 70.6,201.0 70.3,201.0 71.1,204.4 71.9,201.0 74.0,201.0 74.8,206.9 75.6,201.0 86.4,201.0 87.2,204.4 88.0,201.0 149.6,201.0 150.4,206.9 151.2,201.0 174.4,201.0 175.2,221.8 176.0,201.0 185.5,201.0 186.3,206.9 187.1,201.0 196.6,201.0 197.4,221.8 198.2,201.0 200.4,201.0 201.2,209.4 202.0,201.0 212.7,201.0 213.5,209.4 214.3,201.0 226.4,201.0 227.2,209.4 228.0,201.0 233.8,201.0 234.6,206.9 235.4,201.0 240.0,201.0 240.8,209.4 241.6,201.0 246.2,201.0 247.0,206.9 247.8,201.0 252.4,201.0 253.2,206.9 254.0,201.0 257.4,201.0 258.2,206.9 259.0,201.0 263.6,201.0 264.4,206.9 265.2,201.0 271.0,201.0 271.8,206.9 272.6,201.0 276.0,201.0 276.8,209.4 277.6,201.0 283.4,201.0 284.2,206.9 285.0,201.0 290.8,201.0 291.6,209.4 292.4,201.0 293.3,201.0 294.1,232.9 294.9,201.0 297.0,201.0 297.8,206.9 298.6,201.0 303.2,201.0 304.0,209.4 304.8,201.0 310.7,201.0 311.5,206.9 312.3,201.0 318.1,201.0 318.9,211.9 319.7,201.0 319.3,201.0 320.1,216.8 320.9,201.0 324.3,201.0 325.1,206.9 325.9,201.0 330.4,201.0 331.2,209.4 332.0,201.0 330.5,201.0 331.3,206.9 332.1,201.0 337.9,201.0 338.7,209.4 339.5,201.0 345.3,201.0 346.1,209.4 346.9,201.0 352.7,201.0 353.5,209.4 354.3,201.0 360.2,201.0 361.0,209.4 361.8,201.0 367.6,201.0 368.4,209.4 369.2,201.0 373.8,201.0 374.6,209.4 375.4,201.0 381.3,201.0 382.1,209.4 382.9,201.0 387.5,201.0 388.3,209.4 389.1,201.0 394.9,201.0 395.7,209.4 396.5,201.0 402.3,201.0 403.1,209.4 403.9,201.0 409.8,201.0 410.6,209.4 411.4,201.0 422.2,201.0 423.0,209.4 423.8,201.0 430.8,201.0 431.6,209.4 432.4,201.0 438.3,201.0 439.1,209.4 439.9,201.0 450.7,201.0 451.5,209.4 452.3,201.0 460.6,201.0 461.4,209.4 462.2,201.0 471.7,201.0 472.5,209.4 473.3,201.0 471.7,201.0 472.5,209.4 473.3,201.0 482.8,201.0 483.6,209.4 484.4,201.0 492.7,201.0 493.5,209.4 494.3,201.0 503.9,201.0 504.7,209.4 505.5,201.0 513.8,201.0 514.6,209.4 515.4,201.0 523.7,201.0 524.5,209.4 525.3,201.0 532.4,201.0 533.2,209.4 534.0,201.0 539.8,201.0 540.6,209.4 541.4,201.0 548.5,201.0 549.3,209.4 550.1,201.0 558.4,201.0 559.2,209.4 560.0,201.0 568.4,201.0 569.2,209.4 570.0,201.0 573.3,201.0 574.1,219.3 574.9,201.0 578.0,201.0 579.5,216.0 581.0,255.0 598.3,255.0 599.5,206.0 600.5,201.0 601.4,209.4 602.2,201.0 604.3,201.0 605.1,209.4 605.9,201.0 608.0,201.0 608.8,209.4 609.6,201.0 611.7,201.0 612.5,209.4 613.3,201.0 619.1,201.0 619.9,208.2 620.7,201.0 627.8,201.0 628.6,208.2 629.4,201.0 636.5,201.0 637.3,208.2 638.1,201.0 640.2,201.0 641.0,208.2 641.8,201.0 645.1,201.0 645.9,208.2 646.7,201.0 648.9,201.0 649.7,208.2 650.5,201.0 661.3,201.0 662.1,208.2 662.9,201.0 666.2,201.0 667.0,208.2 667.8,201.0 676.1,201.0 676.9,208.2 677.7,201.0 681.1,201.0 681.9,239.1 682.7,201.0 686.0,201.0 686.8,208.2 687.6,201.0 691.0,201.0 691.8,208.2 692.6,201.0 698.4,201.0 699.2,208.2 700.0,201.0 708.4,201.0 709.2,208.2 710.0,201.0 717.0,201.0 717.8,208.2 718.6,201.0 724.7,201.0 725.5,210.1 726.3,201.0 725.7,201.0 726.5,208.2 727.3,201.0 731.2,201.0 732.0,205.8 732.8,201.0 731.9,201.0 732.7,208.2 733.5,201.0 733.9,201.0 734.7,241.6 735.5,201.0 734.1,201.0 734.9,244.0 735.7,201.0 736.1,201.0 736.9,209.4 737.7,201.0 737.8,201.0 738.6,210.1 739.4,201.0 739.3,201.0 740.1,208.2 740.9,201.0 741.1,201.0 741.9,205.8 742.7,201.0 743.3,201.0 744.1,205.8 744.9,201.0 744.3,201.0 745.1,208.2 745.9,201.0 750.5,201.0 751.3,208.2 752.1,201.0 752.0,201.0 752.8,221.1 753.6,201.0 759.7,201.0 760.5,227.6 761.3,201.0 764.1,201.0 764.9,205.8 765.7,201.0 766.2,201.0 767.0,205.8 767.8,201.0 769.5,201.0 770.3,210.1 771.1,201.0 776.1,201.0 776.9,205.8 777.7,201.0 782.7,201.0 783.5,210.1 784.3,201.0 787.0,201.0 787.8,207.9 788.6,201.0 790.3,201.0 791.1,221.1 791.9,201.0 796.9,201.0 797.7,210.1 798.5,201.0 806.7,201.0 807.5,207.9 808.3,201.0 814.4,201.0 815.2,210.1 816.0,201.0 822.0,201.0 822.8,205.8 823.6,201.0 829.7,201.0 830.5,210.1 831.3,201.0 836.0,201.0 836.0,255.0" fill="rgb(194,122,122)" fill-opacity="0.5"/>
<polyline points="60.4,201.0 62.8,201.0 63.6,204.4 64.4,201.0 65.3,201.0 66.1,203.2 66.9,201.0 66.6,201.0 67.4,204.4 68.2,201.0 69.0,201.0 69.8,211.9 70.6,201.0 70.3,201.0 71.1,204.4 71.9,201.0 74.0,201.0 74.8,206.9 75.6,201.0 86.4,201.0 87.2,204.4 88.0,201.0 149.6,201.0 150.4,206.9 151.2,201.0 174.4,201.0 175.2,221.8 176.0,201.0 185.5,201.0 186.3,206.9 187.1,201.0 196.6,201.0 197.4,221.8 198.2,201.0 200.4,201.0 201.2,209.4 202.0,201.0 212.7,201.0 213.5,209.4 214.3,201.0 226.4,201.0 227.2,209.4 228.0,201.0 233.8,201.0 234.6,206.9 235.4,201.0 240.0,201.0 240.8,209.4 241.6,201.0 246.2,201.0 247.0,206.9 247.8,201.0 252.4,201.0 253.2,206.9 254.0,201.0 257.4,201.0 258.2,206.9 259.0,201.0 263.6,201.0 264.4,206.9 265.2,201.0 271.0,201.0 271.8,206.9 272.6,201.0 276.0,201.0 276.8,209.4 277.6,201.0 283.4,201.0 284.2,206.9 285.0,201.0 290.8,201.0 291.6,209.4 292.4,201.0 293.3,201.0 294.1,232.9 294.9,201.0 297.0,201.0 297.8,206.9 298.6,201.0 303.2,201.0 304.0,209.4 304.8,201.0 310.7,201.0 311.5,206.9 312.3,201.0 318.1,201.0 318.9,211.9 319.7,201.0 319.3,201.0 320.1,216.8 320.9,201.0 324.3,201.0 325.1,206.9 325.9,201.0 330.4,201.0 331.2,209.4 332.0,201.0 330.5,201.0 331.3,206.9 332.1,201.0 337.9,201.0 338.7,209.4 339.5,201.0 345.3,201.0 346.1,209.4 346.9,201.0 352.7,201.0 353.5,209.4 354.3,201.0 360.2,201.0 361.0,209.4 361.8,201.0 367.6,201.0 368.4,209.4 369.2,201.0 373.8,201.0 374.6,209.4 375.4,201.0 381.3,201.0 382.1,209.4 382.9,201.0 387.5,201.0 388.3,209.4 389.1,201.0 394.9,201.0 395.7,209.4 396.5,201.0 402.3,201.0 403.1,209.4 403.9,201.0 409.8,201.0 410.6,209.4 411.4,201.0 422.2,201.0 423.0,209.4 423.8,201.0 430.8,201.0 431.6,209.4 432.4,201.0 438.3,201.0 439.1,209.4 439.9,201.0 450.7,201.0 451.5,209.4 452.3,201.0 460.6,201.0 461.4,209.4 462.2,201.0 471.7,201.0 472.5,209.4 473.3,201.0 471.7,201.0 472.5,209.4 473.3,201.0 482.8,201.0 483.6,209.4 484.4,201.0 492.7,201.0 493.5,209.4 494.3,201.0 503.9,201.0 504.7,209.4 505.5,201.0 513.8,201.0 514.6,209.4 515.4,201.0 523.7,201.0 524.5,209.4 525.3,201.0 532.4,201.0 533.2,209.4 534.0,201.0 539.8,201.0 540.6,209.4 541.4,201.0 548.5,201.0 549.3,209.4 550.1,201.0 558.4,201.0 559.2,209.4 560.0,201.0 568.4,201.0 569.2,209.4 570.0,201.0 573.3,201.0 574.1,219.3 574.9,201.0 578.0,201.0 579.5,216.0 581.0,255.0 598.3,255.0 599.5,206.0 600.5,201.0 601.4,209.4 602.2,201.0 604.3,201.0 605.1,209.4 605.9,201.0 608.0,201.0 608.8,209.4 609.6,201.0 611.7,201.0 612.5,209.4 613.3,201.0 619.1,201.0 619.9,208.2 620.7,201.0 627.8,201.0 628.6,208.2 629.4,201.0 636.5,201.0 637.3,208.2 638.1,201.0 640.2,201.0 641.0,208.2 641.8,201.0 645.1,201.0 645.9,208.2 646.7,201.0 648.9,201.0 649.7,208.2 650.5,201.0 661.3,201.0 662.1,208.2 662.9,201.0 666.2,201.0 667.0,208.2 667.8,201.0 676.1,201.0 676.9,208.2 677.7,201.0 681.1,201.0 681.9,239.1 682.7,201.0 686.0,201.0 686.8,208.2 687.6,201.0 691.0,201.0 691.8,208.2 692.6,201.0 698.4,201.0 699.2,208.2 700.0,201.0 708.4,201.0 709.2,208.2 710.0,201.0 717.0,201.0 717.8,208.2 718.6,201.0 724.7,201.0 725.5,210.1 726.3,201.0 725.7,201.0 726.5,208.2 727.3,201.0 731.2,201.0 732.0,205.8 732.8,201.0 731.9,201.0 732.7,208.2 733.5,201.0 733.9,201.0 734.7,241.6 735.5,201.0 734.1,201.0 734.9,244.0 735.7,201.0 736.1,201.0 736.9,209.4 737.7,201.0 737.8,201.0 738.6,210.1 739.4,201.0 739.3,201.0 740.1,208.2 740.9,201.0 741.1,201.0 741.9,205.8 742.7,201.0 743.3,201.0 744.1,205.8 744.9,201.0 744.3,201.0 745.1,208.2 745.9,201.0 750.5,201.0 751.3,208.2 752.1,201.0 752.0,201.0 752.8,221.1 753.6,201.0 759.7,201.0 760.5,227.6 761.3,201.0 764.1,201.0 764.9,205.8 765.7,201.0 766.2,201.0 767.0,205.8 767.8,201.0 769.5,201.0 770.3,210.1 771.1,201.0 776.1,201.0 776.9,205.8 777.7,201.0 782.7,201.0 783.5,210.1 784.3,201.0 787.0,201.0 787.8,207.9 788.6,201.0 790.3,201.0 791.1,221.1 791.9,201.0 796.9,201.0 797.7,210.1 798.5,201.0 806.7,201.0 807.5,207.9 808.3,201.0 814.4,201.0 815.2,210.1 816.0,201.0 822.0,201.0 822.8,205.8 823.6,201.0 829.7,201.0 830.5,210.1 831.3,201.0 836.0,201.0" fill="none" stroke="rgb(200,136,136)" stroke-width="0.8"/>
<polyline points="55.0,254.0 61.2,254.0 63.6,241.6 64.4,240.4 65.4,254.0 69.8,254.0 71.8,254.0 72.8,246.6 73.5,221.8 74.8,209.4 76.0,204.4 77.3,206.9 78.5,216.8 79.7,206.9 81.0,209.4 82.2,206.9 83.5,202.0 84.7,224.3 85.9,214.4 87.2,206.9 88.4,211.9 89.7,204.4 90.9,201.0 92.1,236.7 93.4,234.2 94.6,239.1 95.9,234.2 97.1,237.9 98.3,234.2 99.6,231.7 100.8,246.6 102.1,251.5 103.3,214.4 104.5,234.2 105.8,239.1 107.0,229.2 108.3,246.6 109.5,229.2 110.7,241.6 112.0,249.1 113.2,252.8 114.5,254.0 116.9,253.5 119.4,254.0 121.9,252.8 124.4,254.0 126.8,252.8 128.1,250.3 129.3,252.8 131.8,254.0 134.3,252.8 136.8,254.0 139.2,254.0 141.7,253.5 144.2,254.0 146.7,252.8 147.9,249.1 149.2,253.5 151.6,254.0 154.1,253.5 156.6,251.5 159.1,253.5 161.6,254.0 164.0,253.5 166.5,254.0 169.0,252.8 170.2,249.1 171.5,254.0 173.9,253.5 176.4,252.8 178.9,250.3 180.1,251.5 181.4,247.8 182.6,241.6 183.9,249.1 185.1,252.8 186.3,254.0 188.8,253.5 190.0,253.5 195.0,252.8 199.9,253.5 204.9,252.0 209.8,253.5 214.8,252.8 216.0,247.8 217.3,252.8 222.2,253.5 227.2,252.8 232.1,253.5 237.1,252.0 242.1,253.5 247.0,252.8 252.0,252.0 255.7,249.1 258.2,252.8 264.4,252.0 269.3,252.8 274.3,250.3 275.5,245.3 276.8,252.0 281.7,252.8 286.7,251.0 291.6,252.8 296.6,253.5 301.6,252.0 302.8,246.6 304.0,253.5 309.0,252.8 311.5,250.3 313.9,253.5 318.9,250.3 321.4,252.8 326.3,253.5 328.8,253.5 330.0,254.0 335.0,252.8 342.4,250.3 347.4,249.1 354.8,247.8 362.2,249.1 369.7,247.8 373.4,246.6 375.4,239.1 377.1,246.6 379.6,250.3 387.0,250.3 392.0,252.0 396.4,246.6 398.2,250.3 404.4,251.0 411.8,252.0 419.2,252.8 426.7,253.5 434.1,252.8 442.8,249.1 444.0,252.8 451.5,251.5 456.4,254.0 463.9,251.5 468.8,252.8 470.0,252.8 475.0,252.0 479.9,250.3 482.4,252.8 489.8,252.8 499.7,250.3 502.2,252.8 509.7,253.5 519.6,252.8 521.6,224.3 523.3,223.0 524.5,211.9 525.8,224.3 526.5,242.9 527.5,203.2 528.5,242.9 529.5,252.8 534.5,253.5 538.2,250.3 540.6,247.8 541.9,250.3 543.1,246.6 544.4,252.0 545.6,242.9 546.8,252.8 551.8,253.5 559.2,252.8 561.2,240.4 562.2,252.8 566.7,252.8 569.2,250.3 571.6,250.3 574.1,252.8 576.6,250.3 579.1,252.8 581.6,254.0 596.4,254.0 598.9,252.8 603.9,252.0 605.1,250.3 606.3,252.8 608.8,250.3 610.0,250.3 612.5,247.8 613.7,246.6 615.0,252.8 617.4,254.0 622.4,251.5 624.9,252.8 629.8,254.0 634.8,253.5 642.2,252.8 649.7,250.3 652.1,245.3 653.4,251.5 655.9,249.1 657.1,240.4 658.3,239.1 659.6,239.6 660.8,241.1 662.1,241.6 663.3,244.1 664.5,251.5 667.0,252.8 673.2,249.1 675.7,251.5 679.4,254.0 683.1,254.0 685.6,247.8 686.8,249.1 689.3,252.8 693.0,251.5 694.3,250.3 696.8,252.8 700.5,249.1 704.2,250.3 706.7,252.0 709.2,252.8 711.6,254.0 715.4,250.3 717.8,247.8 718.8,252.0 719.1,252.0 720.0,249.5 722.2,252.8 726.6,251.7 729.8,247.3 730.9,252.8 735.3,253.9 737.5,251.7 741.9,249.5 744.1,251.7 748.4,252.8 752.8,251.7 757.2,250.6 759.4,251.7 761.6,250.6 763.8,252.8 768.1,252.8 772.5,251.7 776.9,252.8 781.3,251.7 785.6,252.8 792.2,251.7 795.5,246.2 797.7,251.7 801.0,252.8 805.3,252.8 809.7,251.3 811.9,252.8 816.3,251.7 820.7,252.8 825.0,251.7 829.4,252.8 833.8,252.8 836.0,253.5" fill="none" stroke="rgb(51,181,51)" stroke-width="1.5" stroke-linejoin="round"/></g>
<text x="94.0" y="212.0" textLength="49.0" lengthAdjust="spacingAndGlyphs" fill="rgb(51,181,51)">81 MB/s</text>
<rect x="10.5" y="200.5" width="828" height="55" fill="none" stroke="#a1a1a1"/>
<rect x="10.5" y="263.5" width="10" height="10" fill="rgb(102,140,178)" stroke="#c4bcb8"/>
<text x="25.0" y="273.0" textLength="86.6" lengthAdjust="spacingAndGlyphs">Running (%cpu)</text>
<rect x="130.5" y="263.5" width="10" height="10" fill="rgb(232,214,214)" stroke="#c4bcb8"/>
<text x="145.0" y="273.0" textLength="95.1" lengthAdjust="spacingAndGlyphs">Unint.sleep (I/O)</text>
<rect x="250.5" y="263.5" width="10" height="10" fill="#f0f0f0" stroke="#c4bcb8"/>
<text x="265.0" y="273.0" textLength="48.9" lengthAdjust="spacingAndGlyphs">Sleeping</text>
<rect x="370.5" y="263.5" width="10" height="10" fill="#b5b5b5" stroke="#c4bcb8"/>
<text x="385.0" y="273.0" textLength="43.2" lengthAdjust="spacingAndGlyphs">Zombie</text>
<text x="3.4" y="288.0" textLength="13.3" lengthAdjust="spacingAndGlyphs">0s</text>
<text x="128.4" y="288.0" textLength="13.3" lengthAdjust="spacingAndGlyphs">5s</text>
<text x="249.6" y="288.0" textLength="20.9" lengthAdjust="spacingAndGlyphs">10s</text>
<text x="374.6" y="288.0" textLength="20.9" lengthAdjust="spacingAndGlyphs">15s</text>
<text x="499.6" y="288.0" textLength="20.9" lengthAdjust="spacingAndGlyphs">20s</text>
<text x="624.6" y="288.0" textLength="20.9" lengthAdjust="spacingAndGlyphs">25s</text>
<text x="749.6" y="288.0" textLength="20.9" lengthAdjust="spacingAndGlyphs">30s</text>
<line x1="35.5" y1="290" x2="35.5" y2="3722" stroke="#ebebeb" stroke-width="1"/>
<line x1="60.5" y1="290" x2="60.5" y2="3722" stroke="#ebebeb" stroke-width="1"/>
<line x1="85.5" y1="290" x2="85.5" y2="3722" stroke="#ebebeb" stroke-width="1"/>
<line x1="110.5" y1="290" x2="110.5" y2="3722" stroke="#ebebeb" stroke-width="1"/>
<line x1="135.5" y1="290" x2="135.5" y2="3722" stroke="#dcdcdc" stroke-width="1"/>
<line x1="160.5" y1="290" x2="160.5" y2="3722" stroke="#ebebeb" stroke-width="1"/>
<line x1="185.5" y1="290" x2="185.5" y2="3722" stroke="#ebebeb" stroke-width="1"/>
<line x1="210.5" y1="290" x2="210.5" y2="3722" stroke="#ebebeb" stroke-width="1"/>
<line x1="235.5" y1="290" x2="235.5" y2="3722" stroke="#ebebeb" stroke-width="1"/>
<line x1="260.5" y1="290" x2="260.5" y2="3722" stroke="#dcdcdc" stroke-width="1"/>
<line x1="285.5" y1="290" x2="285.5" y2="3722" stroke="#ebebeb" stroke-width="1"/>
<line x1="310.5" y1="290" x2="310.5" y2="3722" stroke="#ebebeb" stroke-width="1"/>
<line x1="335.5" y1="290" x2="335.5" y2="3722" stroke="#ebebeb" stroke-width="1"/>
<line x1="360.5" y1="290" x2="360.5" y2="3722" stroke="#ebebeb" stroke-width="1"/>
<line x1="385.5" y1="290" x2="385.5" y2="3722" stroke="#dcdcdc" stroke-width="1"/>
<line x1="410.5" y1="290" x2="410.5" y2="3722" stroke="#ebebeb" stroke-width="1"/>
<line x1="435.5" y1="290" x2="435.5" y2="3722" stroke="#ebebeb" stroke-width="1"/>
<line x1="460.5" y1="290" x2="460.5" y2="3722" stroke="#ebebeb" stroke-width="1"/>
<line x1="485.5" y1="290" x2="485.5" y2="3722" stroke="#ebebeb" stroke-width="1"/>
<line x1="510.5" y1="290" x2="510.5" y2="3722" stroke="#dcdcdc" stroke-width="1"/>
<line x1="535.5" y1="290" x2="535.5" y2="3722" stroke="#ebebeb" stroke-width="1"/>
<line x1="560.5" y1="290" x2="560.5" y2="3722" stroke="#ebebeb" stroke-width="1"/>
<line x1="585.5" y1="290" x2="585.5" y2="3722" stroke="#ebebeb" stroke-width="1"/>
<line x1="610.5" y1="290" x2="610.5" y2="3722" stroke="#ebebeb" stroke-width="1"/>
<line x1="635.5" y1="290" x2="635.5" y2="3722" stroke="#dcdcdc" stroke-width="1"/>
<line x1="660.5" y1="290" x2="660.5" y2="3722" stroke="#ebebeb" stroke-width="1"/>
<line x1="685.5" y1="290" x2="685.5" y2="3722" stroke="#ebebeb" stroke-width="1"/>
<line x1="710.5" y1="290" x2="710.5" y2="3722" stroke="#ebebeb" stroke-width="1"/>
<line x1="735.5" y1="290" x2="735.5" y2="3722" stroke="#ebebeb" stroke-width="1"/>
<line x1="760.5" y1="290" x2="760.5" y2="3722" stroke="#dcdcdc" stroke-width="1"/>
<line x1="785.5" y1="290" x2="785.5" y2="3722" stroke="#ebebeb" stroke-width="1"/>
<line x1="810.5" y1="290" x2="810.5" y2="3722" stroke="#ebebeb" stroke-width="1"/>
<line x1="835.5" y1="290" x2="835.5" y2="3722" stroke="#ebebeb" stroke-width="1"/>
<path d="M10.5,299V308.5M10.5,308.5H54M10.5,299V320.5M10.5,320.5H56M10.5,299V332.5M10.5,332.5H58M10.5,299V344.5M10.5,344.5H59M10.5,299V356.5M10.5,356.5H59M55.5,359V368.5M55.5,368.5H60M57.5,359V380.5M57.5,380.5H62M57.5,359V392.5M57.5,392.5H62M10.5,299V404.5M10.5,404.5H60M10.5,299V416.5M10.5,416.5H71M10.5,299V428.5M10.5,428.5H189M10.5,299V440.5M10.5,440.5H197M10.5,299V452.5M10.5,452.5H200M196.5,455V464.5M196.5,464.5H201M200.5,455V476.5M200.5,476.5H315M312.5,479V488.5M312.5,488.5H317M200.5,455V500.5M200.5,500.5H327M10.5,299V512.5M10.5,512.5H206M199.5,515V524.5M199.5,524.5H204M201.5,515V536.5M201.5,536.5H206M10.5,299V548.5M10.5,548.5H206M201.5,551V560.5M201.5,560.5H206M201.5,551V572.5M201.5,572.5H206M10.5,299V584.5M10.5,584.5H206M10.5,299V596.5M10.5,596.5H206M10.5,299V608.5M10.5,608.5H212M10.5,299V620.5M10.5,620.5H229M227.5,623V632.5M227.5,632.5H232M227.5,623V644.5M227.5,644.5H232M227.5,623V656.5M227.5,656.5H232M227.5,623V668.5M227.5,668.5H232M227.5,623V680.5M227.5,680.5H232M232.5,683V692.5M232.5,692.5H259M254.5,695V704.5M254.5,704.5H259M259.5,707V716.5M259.5,716.5H283M280.5,719V728.5M280.5,728.5H285M280.5,731V740.5M280.5,740.5H285M280.5,743V752.5M280.5,752.5H285M227.5,623V764.5M227.5,764.5H232M227.5,623V776.5M227.5,776.5H232M232.5,779V788.5M232.5,788.5H259M254.5,791V800.5M254.5,800.5H259M259.5,803V812.5M259.5,812.5H283M280.5,815V824.5M280.5,824.5H285M280.5,827V836.5M280.5,836.5H285M280.5,839V848.5M280.5,848.5H285M227.5,623V860.5M227.5,860.5H232M228.5,623V872.5M228.5,872.5H233M228.5,623V884.5M228.5,884.5H233M228.5,623V896.5M228.5,896.5H233M228.5,623V908.5M228.5,908.5H233M228.5,623V920.5M228.5,920.5H233M228.5,623V932.5M228.5,932.5H233M228.5,623V944.5M228.5,944.5H233M228.5,623V956.5M228.5,956.5H233M229.5,623V968.5M229.5,968.5H235M229.5,623V980.5M229.5,980.5H235M229.5,623V992.5M229.5,992.5H234M229.5,623V1004.5M229.5,1004.5H234M229.5,623V1016.5M229.5,1016.5H234M229.5,623V1028.5M229.5,1028.5H234M229.5,623V1040.5M229.5,1040.5H234M229.5,623V1052.5M229.5,1052.5H234M229.5,623V1064.5M229.5,1064.5H234M229.5,623V1076.5M229.5,1076.5H234M229.5,623V1088.5M229.5,1088.5H234M229.5,623V1100.5M229.5,1100.5H234M229.5,623V1112.5M229.5,1112.5H234M229.5,623V1124.5M229.5,1124.5H234M229.5,623V1136.5M229.5,1136.5H234M229.5,623V1148.5M229.5,1148.5H234M229.5,623V1160.5M229.5,1160.5H234M229.5,623V1172.5M229.5,1172.5H234M229.5,623V1184.5M229.5,1184.5H234M229.5,623V1196.5M229.5,1196.5H235M229.5,623V1208.5M229.5,1208.5H235M229.5,623V1220.5M229.5,1220.5H236M229.5,623V1232.5M229.5,1232.5H236M229.5,623V1244.5M229.5,1244.5H236M229.5,623V1256.5M229.5,1256.5H237M229.5,623V1268.5M229.5,1268.5H248M228.5,623V1280.5M228.5,1280.5H233M229.5,623V1292.5M229.5,1292.5H249M228.5,623V1304.5M228.5,1304.5H233M229.5,623V1316.5M229.5,1316.5H254M229.5,623V1328.5M229.5,1328.5H257M229.5,623V1340.5M229.5,1340.5H258M229.5,623V1352.5M229.5,1352.5H260M229.5,623V1364.5M229.5,1364.5H266M229.5,623V1376.5M229.5,1376.5H303M229.5,623V1388.5M229.5,1388.5H310M229.5,623V1400.5M229.5,1400.5H310M229.5,623V1412.5M229.5,1412.5H310M229.5,623V1424.5M229.5,1424.5H310M229.5,623V1436.5M229.5,1436.5H310M229.5,623V1448.5M229.5,1448.5H313M229.5,623V1460.5M229.5,1460.5H313M229.5,623V1472.5M229.5,1472.5H329M229.5,623V1484.5M229.5,1484.5H329M229.5,623V1496.5M229.5,1496.5H431M10.5,299V1508.5M10.5,1508.5H229M225.5,1511V1520.5M225.5,1520.5H230M225.5,1511V1532.5M225.5,1532.5H230M230.5,1535V1544.5M230.5,1544.5H236M10.5,299V1556.5M10.5,1556.5H229M10.5,299V1568.5M10.5,1568.5H238M236.5,1571V1580.5M236.5,1580.5H241M237.5,1583V1592.5M237.5,1592.5H242M241.5,1583V1604.5M241.5,1604.5H258M241.5,1583V1616.5M241.5,1616.5H264M259.5,1619V1628.5M259.5,1628.5H264M259.5,1619V1640.5M259.5,1640.5H264M263.5,1619V1652.5M263.5,1652.5H268M264.5,1619V1664.5M264.5,1664.5H283M280.5,1667V1676.5M280.5,1676.5H285M283.5,1667V1688.5M283.5,1688.5H288M10.5,299V1700.5M10.5,1700.5H245M245.5,1703V1712.5M245.5,1712.5H470M245.5,1703V1724.5M245.5,1724.5H501M245.5,1703V1736.5M245.5,1736.5H559M10.5,299V1748.5M10.5,1748.5H332M329.5,1751V1760.5M329.5,1760.5H334M10.5,299V1772.5M10.5,1772.5H440M10.5,299V1784.5M10.5,1784.5H440M10.5,299V1796.5M10.5,1796.5H440M440.5,1799V1808.5M440.5,1808.5H497M497.5,1811V1820.5M497.5,1820.5H507M504.5,1823V1832.5M504.5,1832.5H509M497.5,1811V1844.5M497.5,1844.5H547M497.5,1811V1856.5M497.5,1856.5H547M497.5,1811V1868.5M497.5,1868.5H547M497.5,1811V1880.5M497.5,1880.5H547M497.5,1811V1892.5M497.5,1892.5H547M497.5,1811V1904.5M497.5,1904.5H547M497.5,1811V1916.5M497.5,1916.5H547M497.5,1811V1928.5M497.5,1928.5H547M497.5,1811V1940.5M497.5,1940.5H548M497.5,1811V1952.5M497.5,1952.5H549M497.5,1811V1964.5M497.5,1964.5H549M497.5,1811V1976.5M497.5,1976.5H549M497.5,1811V1988.5M497.5,1988.5H549M497.5,1811V2000.5M497.5,2000.5H550M497.5,1811V2012.5M497.5,2012.5H552M497.5,1811V2024.5M497.5,2024.5H552M497.5,1811V2036.5M497.5,2036.5H554M497.5,1811V2048.5M497.5,2048.5H556M497.5,1811V2060.5M497.5,2060.5H556M440.5,1799V2072.5M440.5,2072.5H527M10.5,299V2084.5M10.5,2084.5H439M434.5,2087V2096.5M434.5,2096.5H439M435.5,2099V2108.5M435.5,2108.5H440M439.5,2099V2120.5M439.5,2120.5H450M439.5,2099V2132.5M439.5,2132.5H463M439.5,2099V2144.5M439.5,2144.5H465M461.5,2147V2156.5M461.5,2156.5H466M439.5,2099V2168.5M439.5,2168.5H473M470.5,2171V2180.5M470.5,2180.5H475M439.5,2099V2192.5M439.5,2192.5H482M439.5,2099V2204.5M439.5,2204.5H486M439.5,2099V2216.5M439.5,2216.5H492M489.5,2219V2228.5M489.5,2228.5H494M439.5,2099V2240.5M439.5,2240.5H500M439.5,2099V2252.5M439.5,2252.5H503M499.5,2255V2264.5M499.5,2264.5H504M499.5,2267V2276.5M499.5,2276.5H504M435.5,2087V2288.5M435.5,2288.5H440M10.5,299V2300.5M10.5,2300.5H441M10.5,299V2312.5M10.5,2312.5H447M10.5,299V2324.5M10.5,2324.5H466M10.5,299V2336.5M10.5,2336.5H469M10.5,299V2348.5M10.5,2348.5H486M10.5,299V2360.5M10.5,2360.5H500M500.5,2363V2372.5M500.5,2372.5H621M618.5,2375V2384.5M618.5,2384.5H623M10.5,299V2396.5M10.5,2396.5H511M10.5,299V2408.5M10.5,2408.5H511M508.5,2411V2420.5M508.5,2420.5H513M509.5,2411V2432.5M509.5,2432.5H514M510.5,2411V2444.5M510.5,2444.5H515M512.5,2447V2456.5M512.5,2456.5H517M509.5,2411V2468.5M509.5,2468.5H514M510.5,2411V2480.5M510.5,2480.5H515M510.5,2411V2492.5M510.5,2492.5H515M511.5,2411V2504.5M511.5,2504.5H516M513.5,2507V2516.5M513.5,2516.5H518M514.5,2519V2528.5M514.5,2528.5H519M516.5,2519V2540.5M516.5,2540.5H521M518.5,2519V2552.5M518.5,2552.5H525M510.5,2411V2564.5M510.5,2564.5H515M511.5,2411V2576.5M511.5,2576.5H516M511.5,2411V2588.5M511.5,2588.5H519M511.5,2411V2600.5M511.5,2600.5H519M511.5,2411V2612.5M511.5,2612.5H530M511.5,2411V2624.5M511.5,2624.5H533M511.5,2411V2636.5M511.5,2636.5H536M532.5,2639V2648.5M532.5,2648.5H537M532.5,2639V2660.5M532.5,2660.5H537M532.5,2639V2672.5M532.5,2672.5H537M536.5,2639V2684.5M536.5,2684.5H545M511.5,2411V2696.5M511.5,2696.5H550M511.5,2411V2708.5M511.5,2708.5H554M551.5,2711V2720.5M551.5,2720.5H556M511.5,2411V2732.5M511.5,2732.5H558M558.5,2735V2744.5M558.5,2744.5H563M563.5,2747V2756.5M563.5,2756.5H575M570.5,2759V2768.5M570.5,2768.5H575M575.5,2771V2780.5M575.5,2780.5H598M575.5,2771V2792.5M575.5,2792.5H606M511.5,2411V2804.5M511.5,2804.5H578M511.5,2411V2816.5M511.5,2816.5H602M511.5,2411V2828.5M511.5,2828.5H602M511.5,2411V2840.5M511.5,2840.5H604M511.5,2411V2852.5M511.5,2852.5H605M511.5,2411V2864.5M511.5,2864.5H606M575.5,2771V2876.5M575.5,2876.5H608M511.5,2411V2888.5M511.5,2888.5H621M511.5,2411V2900.5M511.5,2900.5H624M622.5,2903V2912.5M622.5,2912.5H627M627.5,2915V2924.5M627.5,2924.5H634M632.5,2927V2936.5M632.5,2936.5H637M636.5,2939V2948.5M636.5,2948.5H641M636.5,2951V2960.5M636.5,2960.5H641M634.5,2927V2972.5M634.5,2972.5H676M511.5,2411V2984.5M511.5,2984.5H680M677.5,2987V2996.5M677.5,2996.5H682M682.5,2999V3008.5M682.5,3008.5H689M511.5,2411V3020.5M511.5,3020.5H683M679.5,3023V3032.5M679.5,3032.5H684M511.5,2411V3044.5M511.5,3044.5H688M686.5,3047V3056.5M686.5,3056.5H691M689.5,3059V3068.5M689.5,3068.5H694M689.5,3059V3080.5M689.5,3080.5H694M689.5,3059V3092.5M689.5,3092.5H694M691.5,3059V3104.5M691.5,3104.5H697M691.5,3059V3116.5M691.5,3116.5H697M511.5,2411V3128.5M511.5,3128.5H690M686.5,3131V3140.5M686.5,3140.5H691M688.5,3047V3152.5M688.5,3152.5H722M717.5,3155V3164.5M717.5,3164.5H722M718.5,3155V3176.5M718.5,3176.5H723M511.5,2411V3188.5M511.5,3188.5H723M511.5,2411V3200.5M511.5,3200.5H726M723.5,3203V3212.5M723.5,3212.5H728M511.5,2411V3224.5M511.5,3224.5H731M511.5,2411V3236.5M511.5,3236.5H733M511.5,2411V3248.5M511.5,3248.5H736M733.5,3251V3260.5M733.5,3260.5H738M511.5,2411V3272.5M511.5,3272.5H738M733.5,3275V3284.5M733.5,3284.5H738M735.5,3287V3296.5M735.5,3296.5H740M738.5,3287V3308.5M738.5,3308.5H822M817.5,3311V3320.5M817.5,3320.5H822M511.5,2411V3332.5M511.5,3332.5H763M511.5,2411V3344.5M511.5,3344.5H765M511.5,2411V3356.5M511.5,3356.5H788M511.5,2411V3368.5M511.5,3368.5H792M787.5,3371V3380.5M787.5,3380.5H792M792.5,3371V3392.5M792.5,3392.5H819M511.5,2411V3404.5M511.5,3404.5H824M818.5,3407V3416.5M818.5,3416.5H823M818.5,3419V3428.5M818.5,3428.5H823M821.5,3431V3440.5M821.5,3440.5H826M511.5,2411V3452.5M511.5,3452.5H834M829.5,3455V3464.5M829.5,3464.5H834M10.5,3479V3488.5M10.5,3488.5H13M13.5,3491V3500.5M13.5,3500.5H260M10.5,3479V3512.5M10.5,3512.5H16M10.5,3479V3524.5M10.5,3524.5H20M10.5,3479V3536.5M10.5,3536.5H22M10.5,3479V3548.5M10.5,3548.5H22M10.5,3479V3560.5M10.5,3560.5H22M10.5,3479V3572.5M10.5,3572.5H22M10.5,3479V3584.5M10.5,3584.5H22M10.5,3479V3596.5M10.5,3596.5H165M10.5,3479V3608.5M10.5,3608.5H258M10.5,3479V3620.5M10.5,3620.5H263M10.5,3479V3632.5M10.5,3632.5H293M10.5,3479V3644.5M10.5,3644.5H294M10.5,3479V3656.5M10.5,3656.5H294M10.5,3479V3668.5M10.5,3668.5H296M295.5,3671V3680.5M295.5,3680.5H300M10.5,3479V3692.5M10.5,3692.5H301M10.5,3479V3704.5M10.5,3704.5H328M10.5,3479V3716.5M10.5,3716.5H330" fill="none" stroke="#c0c0c0" stroke-dasharray="2,2"/>
<g><rect x="10" y="290" width="827" height="12" fill="#f0f0f0"/><rect x="177.5" y="291" width="12.5" height="11" fill="rgb(234,220,220)"/><rect x="200.8" y="291" width="5.0" height="11" fill="rgb(234,220,220)"/><rect x="275.4" y="291" width="3.6" height="11" fill="rgb(234,220,220)"/><rect x="10.5" y="290.5" width="827" height="12" fill="none" stroke="#b5b5b5"/><rect x="54" y="302" width="783" height="12" fill="#f0f0f0"/><rect x="57" y="303" width="1" height="11" fill="rgb(196,210,226)"/><rect x="64" y="303" width="1" height="11" fill="rgb(196,210,226)"/><rect x="72" y="303" width="1" height="11" fill="rgb(196,210,226)"/><rect x="80" y="303" width="1" height="11" fill="rgb(196,210,226)"/><rect x="88" y="303" width="1" height="11" fill="rgb(196,210,226)"/><rect x="96" y="303" width="1" height="11" fill="rgb(196,210,226)"/><rect x="105" y="303" width="1" height="11" fill="rgb(196,210,226)"/><rect x="110" y="303" width="1" height="11" fill="rgb(196,210,226)"/><rect x="116" y="303" width="1" height="11" fill="rgb(196,210,226)"/><rect x="125" y="303" width="1" height="11" fill="rgb(196,210,226)"/><rect x="132" y="303" width="1" height="11" fill="rgb(196,210,226)"/><rect x="141" y="303" width="1" height="11" fill="rgb(196,210,226)"/><rect x="146" y="303" width="1" height="11" fill="rgb(196,210,226)"/><rect x="153" y="303" width="1" height="11" fill="rgb(196,210,226)"/><rect x="158" y="303" width="1" height="11" fill="rgb(196,210,226)"/><rect x="165" y="303" width="1" height="11" fill="rgb(196,210,226)"/><rect x="172" y="303" width="1" height="11" fill="rgb(196,210,226)"/><rect x="177" y="303" width="1" height="11" fill="rgb(196,210,226)"/><rect x="182" y="303" width="1" height="11" fill="rgb(196,210,226)"/><rect x="188" y="303" width="1" height="11" fill="rgb(196,210,226)"/><rect x="197" y="303" width="1" height="11" fill="rgb(196,210,226)"/><rect x="205" y="303" width="1" height="11" fill="rgb(196,210,226)"/><rect x="210" y="303" width="1" height="11" fill="rgb(196,210,226)"/><rect x="218" y="303" width="1" height="11" fill="rgb(196,210,226)"/><rect x="223" y="303" width="1" height="11" fill="rgb(196,210,226)"/><rect x="230" y="303" width="1" height="11" fill="rgb(196,210,226)"/><rect x="235" y="303" width="1" height="11" fill="rgb(196,210,226)"/><rect x="240" y="303" width="1" height="11" fill="rgb(196,210,226)"/><rect x="248" y="303" width="1" height="11" fill="rgb(196,210,226)"/><rect x="254" y="303" width="1" height="11" fill="rgb(196,210,226)"/><rect x="259" y="303" width="1" height="11" fill="rgb(196,210,226)"/><rect x="268" y="303" width="1" height="11" fill="rgb(196,210,226)"/><rect x="276" y="303" width="1" height="11" fill="rgb(196,210,226)"/><rect x="282" y="303" width="1" height="11" fill="rgb(196,210,226)"/><rect x="291" y="303" width="1" height="11" fill="rgb(196,210,226)"/><rect x="298" y="303" width="1" height="11" fill="rgb(196,210,226)"/><rect x="306" y="303" width="1" height="11" fill="rgb(196,210,226)"/><rect x="311" y="303" width="1" height="11" fill="rgb(196,210,226)"/><rect x="320" y="303" width="1" height="11" fill="rgb(196,210,226)"/><rect x="327" y="303" width="1" height="11" fill="rgb(196,210,226)"/><rect x="336" y="303" width="1" height="11" fill="rgb(196,210,226)"/><rect x="345" y="303" width="1" height="11" fill="rgb(196,210,226)"/><rect x="351" y="303" width="1" height="11" fill="rgb(196,210,226)"/><rect x="357" y="303" width="1" height="11" fill="rgb(196,210,226)"/><rect x="362" y="303" width="1" height="11" fill="rgb(196,210,226)"/><rect x="367" y="303" width="1" height="11" fill="rgb(196,210,226)"/><rect x="372" y="303" width="1" height="11" fill="rgb(196,210,226)"/><rect x="378" y="303" width="1" height="11" fill="rgb(196,210,226)"/><rect x="385" y="303" width="1" height="11" fill="rgb(196,210,226)"/><rect x="389" y="303" width="1" height="11" fill="rgb(196,210,226)"/><rect x="397" y="303" width="1" height="11" fill="rgb(196,210,226)"/><rect x="403" y="303" width="1" height="11" fill="rgb(196,210,226)"/><rect x="409" y="303" width="1" height="11" fill="rgb(196,210,226)"/><rect x="417" y="303" width="1" height="11" fill="rgb(196,210,226)"/><rect x="424" y="303" width="1" height="11" fill="rgb(196,210,226)"/><rect x="430" y="303" width="1" height="11" fill="rgb(196,210,226)"/><rect x="436" y="303" width="1" height="11" fill="rgb(196,210,226)"/><rect x="444" y="303" width="1" height="11" fill="rgb(196,210,226)"/><rect x="449" y="303" width="1" height="11" fill="rgb(196,210,226)"/><rect x="458" y="303" width="1" height="11" fill="rgb(196,210,226)"/><rect x="462" y="303" width="1" height="11" fill="rgb(196,210,226)"/><rect x="470" y="303" width="1" height="11" fill="rgb(196,210,226)"/><rect x="478" y="303" width="1" height="11" fill="rgb(196,210,226)"/><rect x="483" y="303" width="1" height="11" fill="rgb(196,210,226)"/><rect x="491" y="303" width="1" height="11" fill="rgb(196,210,226)"/><rect x="497" y="303" width="1" height="11" fill="rgb(196,210,226)"/><rect x="504" y="303" width="1" height="11" fill="rgb(196,210,226)"/><rect x="509" y="303" width="1" height="11" fill="rgb(196,210,226)"/><rect x="514" y="303" width="1" height="11" fill="rgb(196,210,226)"/><rect x="519" y="303" width="1" height="11" fill="rgb(196,210,226)"/><rect x="528" y="303" width="1" height="11" fill="rgb(196,210,226)"/><rect x="533" y="303" width="1" height="11" fill="rgb(196,210,226)"/><rect x="541" y="303" width="1" height="11" fill="rgb(196,210,226)"/><rect x="550" y="303" width="1" height="11" fill="rgb(196,210,226)"/><rect x="558" y="303" width="1" height="11" fill="rgb(196,210,226)"/><rect x="564" y="303" width="1" height="11" fill="rgb(196,210,226)"/><rect x="571" y="303" width="1" height="11" fill="rgb(196,210,226)"/><rect x="577" y="303" width="1" height="11" fill="rgb(196,210,226)"/><rect x="585" y="303" width="1" height="11" fill="rgb(196,210,226)"/><rect x="590" y="303" width="1" height="11" fill="rgb(196,210,226)"/><rect x="598" y="303" width="1" height="11" fill="rgb(196,210,226)"/><rect x="606" y="303" width="1" height="11" fill="rgb(196,210,226)"/><rect x="615" y="303" width="1" height="11" fill="rgb(196,210,226)"/><rect x="619" y="303" width="1" height="11" fill="rgb(196,210,226)"/><rect x="628" y="303" width="1" height="11" fill="rgb(196,210,226)"/><rect x="633" y="303" width="1" height="11" fill="rgb(196,210,226)"/><rect x="639" y="303" width="1" height="11" fill="rgb(196,210,226)"/><rect x="646" y="303" width="1" height="11" fill="rgb(196,210,226)"/><rect x="655" y="303" width="1" height="11" fill="rgb(196,210,226)"/><rect x="661" y="303" width="1" height="11" fill="rgb(196,210,226)"/><rect x="670" y="303" width="1" height="11" fill="rgb(196,210,226)"/><rect x="677" y="303" width="1" height="11" fill="rgb(196,210,226)"/><rect x="683" y="303" width="1" height="11" fill="rgb(196,210,226)"/><rect x="688" y="303" width="1" height="11" fill="rgb(196,210,226)"/><rect x="694" y="303" width="1" height="11" fill="rgb(196,210,226)"/><rect x="699" y="303" width="1" height="11" fill="rgb(196,210,226)"/><rect x="704" y="303" width="1" height="11" fill="rgb(196,210,226)"/><rect x="711" y="303" width="1" height="11" fill="rgb(196,210,226)"/><rect x="720" y="303" width="1" height="11" fill="rgb(196,210,226)"/><rect x="726" y="303" width="1" height="11" fill="rgb(196,210,226)"/><rect x="730" y="303" width="1" height="11" fill="rgb(196,210,226)"/><rect x="739" y="303" width="1" height="11" fill="rgb(196,210,226)"/><rect x="746" y="303" width="1" height="11" fill="rgb(196,210,226)"/><rect x="752" y="303" width="1" height="11" fill="rgb(196,210,226)"/><rect x="758" y="303" width="1" height="11" fill="rgb(196,210,226)"/><rect x="765" y="303" width="1" height="11" fill="rgb(196,210,226)"/><rect x="773" y="303" width="1" height="11" fill="rgb(196,210,226)"/><rect x="780" y="303" width="1" height="11" fill="rgb(196,210,226)"/><rect x="786" y="303" width="1" height="11" fill="rgb(196,210,226)"/><rect x="791" y="303" width="1" height="11" fill="rgb(196,210,226)"/><rect x="800" y="303" width="1" height="11" fill="rgb(196,210,226)"/><rect x="804" y="303" width="1" height="11" fill="rgb(196,210,226)"/><rect x="811" y="303" width="1" height="11" fill="rgb(196,210,226)"/><rect x="819" y="303" width="1" height="11" fill="rgb(196,210,226)"/><rect x="824" y="303" width="1" height="11" fill="rgb(196,210,226)"/><rect x="832" y="303" width="1" height="11" fill="rgb(196,210,226)"/><rect x="54.5" y="302.5" width="783" height="12" fill="none" stroke="#b5b5b5"/><rect x="56" y="314" width="2" height="12" fill="#f0f0f0"/><rect x="56.5" y="314.5" width="2" height="12" fill="none" stroke="#b5b5b5"/><rect x="58" y="326" width="676" height="12" fill="#f0f0f0"/><rect x="58.5" y="327" width="3.0" height="11" fill="rgb(102,140,178)"/><rect x="58.5" y="326.5" width="676" height="12" fill="none" stroke="#b5b5b5"/><rect x="59" y="338" width="2" height="12" fill="#f0f0f0"/><rect x="59.5" y="338.5" width="2" height="12" fill="none" stroke="#b5b5b5"/><rect x="59" y="350" width="117" height="12" fill="#f0f0f0"/><rect x="60.5" y="351" width="1.0" height="11" fill="rgb(102,140,178)"/><rect x="59.5" y="350.5" width="117" height="12" fill="none" stroke="#b5b5b5"/><rect x="60" y="362" width="3" height="12" fill="#f0f0f0"/><rect x="61.0" y="363" width="2.0" height="11" fill="rgb(234,220,220)"/><rect x="60.5" y="362.5" width="3" height="12" fill="none" stroke="#b5b5b5"/><rect x="62" y="374" width="4" height="12" fill="#f0f0f0"/><rect x="63.0" y="375" width="2.0" height="11" fill="rgb(228,207,207)"/><rect x="62.5" y="374.5" width="4" height="12" fill="none" stroke="#b5b5b5"/><rect x="62" y="386" width="7" height="12" fill="#f0f0f0"/><rect x="64.0" y="387" width="5.0" height="11" fill="rgb(228,207,207)"/><rect x="62.5" y="386.5" width="7" height="12" fill="none" stroke="#b5b5b5"/><rect x="60" y="398" width="9" height="12" fill="#f0f0f0"/><rect x="60.5" y="398.5" width="9" height="12" fill="none" stroke="#b5b5b5"/><rect x="71" y="410" width="103" height="12" fill="#f0f0f0"/><rect x="71.5" y="411" width="2.5" height="11" fill="rgb(234,220,220)"/><rect x="77.0" y="411" width="11.0" height="11" fill="rgb(234,220,220)"/><rect x="90.0" y="411" width="84.0" height="11" fill="rgb(234,220,220)"/><rect x="71.5" y="410.5" width="103" height="12" fill="none" stroke="#b5b5b5"/><rect x="189" y="422" width="8" height="12" fill="#f0f0f0"/><rect x="189.5" y="423" width="7.5" height="11" fill="rgb(228,207,207)"/><rect x="189.5" y="422.5" width="8" height="12" fill="none" stroke="#b5b5b5"/><rect x="197" y="434" width="640" height="12" fill="#f0f0f0"/><rect x="197.5" y="434.5" width="640" height="12" fill="none" stroke="#b5b5b5"/><rect x="200" y="446" width="238" height="12" fill="#f0f0f0"/><rect x="321.0" y="447" width="6.0" height="11" fill="rgb(234,220,220)"/><rect x="200.5" y="446.5" width="238" height="12" fill="none" stroke="#b5b5b5"/><rect x="201" y="458" width="5" height="12" fill="#f0f0f0"/><rect x="202.0" y="459" width="3.0" height="11" fill="rgb(220,188,188)"/><rect x="201.5" y="458.5" width="5" height="12" fill="none" stroke="#b5b5b5"/><rect x="315" y="470" width="120" height="12" fill="#f0f0f0"/><rect x="320.0" y="471" width="7.5" height="11" fill="#b0b0b0"/><rect x="315.5" y="470.5" width="120" height="12" fill="none" stroke="#b5b5b5"/><rect x="317" y="482" width="119" height="12" fill="#f0f0f0"/><rect x="321.0" y="483" width="106.6" height="11" fill="rgb(228,207,207)"/><rect x="317.5" y="482.5" width="119" height="12" fill="none" stroke="#b5b5b5"/><rect x="327" y="494" width="112" height="12" fill="#f0f0f0"/><rect x="328.5" y="495" width="5.0" height="11" fill="rgb(234,220,220)"/><rect x="327.5" y="494.5" width="112" height="12" fill="none" stroke="#b5b5b5"/><rect x="206" y="506" width="6" height="12" fill="#f0f0f0"/><rect x="206.5" y="506.5" width="6" height="12" fill="none" stroke="#b5b5b5"/><rect x="204" y="518" width="4" height="12" fill="#f0f0f0"/><rect x="204.5" y="518.5" width="4" height="12" fill="none" stroke="#b5b5b5"/><rect x="206" y="530" width="4" height="12" fill="#f0f0f0"/><rect x="206.5" y="530.5" width="4" height="12" fill="none" stroke="#b5b5b5"/><rect x="206" y="542" width="4" height="12" fill="#f0f0f0"/><rect x="206.5" y="542.5" width="4" height="12" fill="none" stroke="#b5b5b5"/><rect x="206" y="554" width="4" height="12" fill="#f0f0f0"/><rect x="207.0" y="555" width="3.0" height="11" fill="rgb(234,220,220)"/><rect x="206.5" y="554.5" width="4" height="12" fill="none" stroke="#b5b5b5"/><rect x="206" y="566" width="4" height="12" fill="#f0f0f0"/><rect x="207.0" y="567" width="3.0" height="11" fill="rgb(228,207,207)"/><rect x="206.5" y="566.5" width="4" height="12" fill="none" stroke="#b5b5b5"/><rect x="206" y="578" width="631" height="12" fill="#f0f0f0"/><rect x="206.5" y="578.5" width="631" height="12" fill="none" stroke="#b5b5b5"/><rect x="206" y="590" width="23" height="12" fill="#f0f0f0"/><rect x="206.5" y="591" width="18.5" height="11" fill="rgb(228,207,207)"/><rect x="206.5" y="590.5" width="23" height="12" fill="none" stroke="#b5b5b5"/><rect x="212" y="602" width="33" height="12" fill="#f0f0f0"/><rect x="214.0" y="603" width="31.0" height="11" fill="rgb(228,207,207)"/><rect x="212.5" y="602.5" width="33" height="12" fill="none" stroke="#b5b5b5"/><rect x="229" y="614" width="608" height="12" fill="#f0f0f0"/><rect x="229.5" y="614.5" width="608" height="12" fill="none" stroke="#b5b5b5"/><rect x="232" y="626" width="19" height="12" fill="#f0f0f0"/><rect x="232.5" y="627" width="18.5" height="11" fill="rgb(228,207,207)"/><rect x="232.5" y="626.5" width="19" height="12" fill="none" stroke="#b5b5b5"/><rect x="232" y="638" width="24" height="12" fill="#f0f0f0"/><rect x="232.5" y="639" width="23.5" height="11" fill="rgb(228,207,207)"/><rect x="232.5" y="638.5" width="24" height="12" fill="none" stroke="#b5b5b5"/><rect x="232" y="650" width="44" height="12" fill="#f0f0f0"/><rect x="232.5" y="651" width="25.5" height="11" fill="rgb(228,207,207)"/><rect x="260.0" y="651" width="4.0" height="11" fill="rgb(228,207,207)"/><rect x="266.0" y="651" width="10.0" height="11" fill="rgb(228,207,207)"/><rect x="232.5" y="650.5" width="44" height="12" fill="none" stroke="#b5b5b5"/><rect x="232" y="662" width="21" height="12" fill="#f0f0f0"/><rect x="232.5" y="663" width="20.5" height="11" fill="rgb(228,207,207)"/><rect x="232.5" y="662.5" width="21" height="12" fill="none" stroke="#b5b5b5"/><rect x="232" y="674" width="96" height="12" fill="#f0f0f0"/><rect x="232.5" y="675" width="95.5" height="11" fill="rgb(228,207,207)"/><rect x="232.5" y="674.5" width="96" height="12" fill="none" stroke="#b5b5b5"/><rect x="259" y="686" width="36" height="12" fill="#f0f0f0"/><rect x="259.5" y="686.5" width="36" height="12" fill="none" stroke="#b5b5b5"/><rect x="259" y="698" width="36" height="12" fill="#f0f0f0"/><rect x="263.0" y="699" width="3.0" height="11" fill="rgb(228,207,207)"/><rect x="277.0" y="699" width="6.0" height="11" fill="rgb(228,207,207)"/><rect x="259.5" y="698.5" width="36" height="12" fill="none" stroke="#b5b5b5"/><rect x="283" y="710" width="12" height="12" fill="#f0f0f0"/><rect x="283.5" y="710.5" width="12" height="12" fill="none" stroke="#b5b5b5"/><rect x="285" y="722" width="10" height="12" fill="#f0f0f0"/><rect x="288.0" y="723" width="5.0" height="11" fill="rgb(228,207,207)"/><rect x="285.5" y="722.5" width="10" height="12" fill="none" stroke="#b5b5b5"/><rect x="285" y="734" width="3" height="12" fill="#f0f0f0"/><rect x="285.5" y="734.5" width="3" height="12" fill="none" stroke="#b5b5b5"/><rect x="285" y="746" width="3" height="12" fill="#f0f0f0"/><rect x="285.5" y="746.5" width="3" height="12" fill="none" stroke="#b5b5b5"/><rect x="232" y="758" width="21" height="12" fill="#f0f0f0"/><rect x="232.5" y="759" width="20.5" height="11" fill="rgb(228,207,207)"/><rect x="232.5" y="758.5" width="21" height="12" fill="none" stroke="#b5b5b5"/><rect x="232" y="770" width="96" height="12" fill="#f0f0f0"/><rect x="232.5" y="771" width="95.5" height="11" fill="rgb(228,207,207)"/><rect x="232.5" y="770.5" width="96" height="12" fill="none" stroke="#b5b5b5"/><rect x="259" y="782" width="39" height="12" fill="#f0f0f0"/><rect x="259.5" y="782.5" width="39" height="12" fill="none" stroke="#b5b5b5"/><rect x="259" y="794" width="39" height="12" fill="#f0f0f0"/><rect x="262.0" y="795" width="4.0" height="11" fill="rgb(228,207,207)"/><rect x="277.0" y="795" width="6.0" height="11" fill="rgb(228,207,207)"/><rect x="259.5" y="794.5" width="39" height="12" fill="none" stroke="#b5b5b5"/><rect x="283" y="806" width="10" height="12" fill="#f0f0f0"/><rect x="283.5" y="806.5" width="10" height="12" fill="none" stroke="#b5b5b5"/><rect x="285" y="818" width="7" height="12" fill="#f0f0f0"/><rect x="286.0" y="819" width="5.0" height="11" fill="rgb(228,207,207)"/><rect x="285.5" y="818.5" width="7" height="12" fill="none" stroke="#b5b5b5"/><rect x="285" y="830" width="4" height="12" fill="#f0f0f0"/><rect x="285.5" y="830.5" width="4" height="12" fill="none" stroke="#b5b5b5"/><rect x="285" y="842" width="4" height="12" fill="#f0f0f0"/><rect x="285.5" y="842.5" width="4" height="12" fill="none" stroke="#b5b5b5"/><rect x="232" y="854" width="4" height="12" fill="#f0f0f0"/><rect x="232.5" y="854.5" width="4" height="12" fill="none" stroke="#b5b5b5"/><rect x="233" y="866" width="64" height="12" fill="#f0f0f0"/><rect x="233.5" y="867" width="28.5" height="11" fill="rgb(234,220,220)"/><rect x="264.0" y="867" width="33.0" height="11" fill="rgb(234,220,220)"/><rect x="233.5" y="866.5" width="64" height="12" fill="none" stroke="#b5b5b5"/><rect x="233" y="878" width="3" height="12" fill="#f0f0f0"/><rect x="233.5" y="878.5" width="3" height="12" fill="none" stroke="#b5b5b5"/><rect x="233" y="890" width="3" height="12" fill="#f0f0f0"/><rect x="233.5" y="890.5" width="3" height="12" fill="none" stroke="#b5b5b5"/><rect x="233" y="902" width="3" height="12" fill="#f0f0f0"/><rect x="233.5" y="902.5" width="3" height="12" fill="none" stroke="#b5b5b5"/><rect x="233" y="914" width="3" height="12" fill="#f0f0f0"/><rect x="233.5" y="914.5" width="3" height="12" fill="none" stroke="#b5b5b5"/><rect x="233" y="926" width="3" height="12" fill="#f0f0f0"/><rect x="233.5" y="926.5" width="3" height="12" fill="none" stroke="#b5b5b5"/><rect x="233" y="938" width="3" height="12" fill="#f0f0f0"/><rect x="233.5" y="938.5" width="3" height="12" fill="none" stroke="#b5b5b5"/><rect x="233" y="950" width="3" height="12" fill="#f0f0f0"/><rect x="233.5" y="950.5" width="3" height="12" fill="none" stroke="#b5b5b5"/><rect x="235" y="962" width="28" height="12" fill="#f0f0f0"/><rect x="235.5" y="963" width="19.5" height="11" fill="rgb(220,188,188)"/><rect x="256.0" y="963" width="3.0" height="11" fill="rgb(234,220,220)"/><rect x="235.5" y="962.5" width="28" height="12" fill="none" stroke="#b5b5b5"/><rect x="235" y="974" width="5" height="12" fill="#f0f0f0"/><rect x="235.5" y="974.5" width="5" height="12" fill="none" stroke="#b5b5b5"/><rect x="234" y="986" width="2" height="12" fill="#f0f0f0"/><rect x="234.5" y="986.5" width="2" height="12" fill="none" stroke="#b5b5b5"/><rect x="234" y="998" width="17" height="12" fill="#f0f0f0"/><rect x="234.5" y="999" width="16.5" height="11" fill="rgb(228,207,207)"/><rect x="234.5" y="998.5" width="17" height="12" fill="none" stroke="#b5b5b5"/><rect x="234" y="1010" width="2" height="12" fill="#f0f0f0"/><rect x="234.5" y="1010.5" width="2" height="12" fill="none" stroke="#b5b5b5"/><rect x="234" y="1022" width="78" height="12" fill="#f0f0f0"/><rect x="310.0" y="1023" width="2.0" height="11" fill="rgb(228,207,207)"/><rect x="234.5" y="1022.5" width="78" height="12" fill="none" stroke="#b5b5b5"/><rect x="234" y="1034" width="2" height="12" fill="#f0f0f0"/><rect x="234.5" y="1034.5" width="2" height="12" fill="none" stroke="#b5b5b5"/><rect x="234" y="1046" width="2" height="12" fill="#f0f0f0"/><rect x="234.5" y="1046.5" width="2" height="12" fill="none" stroke="#b5b5b5"/><rect x="234" y="1058" width="2" height="12" fill="#f0f0f0"/><rect x="234.5" y="1058.5" width="2" height="12" fill="none" stroke="#b5b5b5"/><rect x="234" y="1070" width="2" height="12" fill="#f0f0f0"/><rect x="234.5" y="1070.5" width="2" height="12" fill="none" stroke="#b5b5b5"/><rect x="234" y="1082" width="2" height="12" fill="#f0f0f0"/><rect x="234.5" y="1082.5" width="2" height="12" fill="none" stroke="#b5b5b5"/><rect x="234" y="1094" width="2" height="12" fill="#f0f0f0"/><rect x="234.5" y="1094.5" width="2" height="12" fill="none" stroke="#b5b5b5"/><rect x="234" y="1106" width="2" height="12" fill="#f0f0f0"/><rect x="234.5" y="1106.5" width="2" height="12" fill="none" stroke="#b5b5b5"/><rect x="234" y="1118" width="2" height="12" fill="#f0f0f0"/><rect x="234.5" y="1118.5" width="2" height="12" fill="none" stroke="#b5b5b5"/><rect x="234" y="1130" width="2" height="12" fill="#f0f0f0"/><rect x="234.5" y="1130.5" width="2" height="12" fill="none" stroke="#b5b5b5"/><rect x="234" y="1142" width="2" height="12" fill="#f0f0f0"/><rect x="234.5" y="1142.5" width="2" height="12" fill="none" stroke="#b5b5b5"/><rect x="234" y="1154" width="2" height="12" fill="#f0f0f0"/><rect x="234.5" y="1154.5" width="2" height="12" fill="none" stroke="#b5b5b5"/><rect x="234" y="1166" width="2" height="12" fill="#f0f0f0"/><rect x="234.5" y="1166.5" width="2" height="12" fill="none" stroke="#b5b5b5"/><rect x="234" y="1178" width="2" height="12" fill="#f0f0f0"/><rect x="234.5" y="1178.5" width="2" height="12" fill="none" stroke="#b5b5b5"/><rect x="235" y="1190" width="17" height="12" fill="#f0f0f0"/><rect x="235.5" y="1191" width="16.5" height="11" fill="rgb(220,188,188)"/><rect x="235.5" y="1190.5" width="17" height="12" fill="none" stroke="#b5b5b5"/><rect x="235" y="1202" width="3" height="12" fill="#f0f0f0"/><rect x="235.5" y="1202.5" width="3" height="12" fill="none" stroke="#b5b5b5"/><rect x="236" y="1214" width="42" height="12" fill="#f0f0f0"/><rect x="236.5" y="1215" width="25.5" height="11" fill="rgb(228,207,207)"/><rect x="236.5" y="1214.5" width="42" height="12" fill="none" stroke="#b5b5b5"/><rect x="236" y="1226" width="15" height="12" fill="#f0f0f0"/><rect x="236.5" y="1227" width="14.5" height="11" fill="rgb(228,207,207)"/><rect x="236.5" y="1226.5" width="15" height="12" fill="none" stroke="#b5b5b5"/><rect x="236" y="1238" width="41" height="12" fill="#f0f0f0"/><rect x="236.5" y="1239" width="24.0" height="11" fill="rgb(228,207,207)"/><rect x="236.5" y="1238.5" width="41" height="12" fill="none" stroke="#b5b5b5"/><rect x="237" y="1250" width="19" height="12" fill="#f0f0f0"/><rect x="237.5" y="1251" width="18.0" height="11" fill="rgb(228,207,207)"/><rect x="237.5" y="1250.5" width="19" height="12" fill="none" stroke="#b5b5b5"/><rect x="248" y="1262" width="10" height="12" fill="#f0f0f0"/><rect x="248.5" y="1263" width="9.0" height="11" fill="rgb(228,207,207)"/><rect x="248.5" y="1262.5" width="10" height="12" fill="none" stroke="#b5b5b5"/><rect x="233" y="1274" width="21" height="12" fill="#f0f0f0"/><rect x="233.5" y="1275" width="14.5" height="11" fill="rgb(228,207,207)"/><rect x="249.0" y="1275" width="5.0" height="11" fill="rgb(220,188,188)"/><rect x="233.5" y="1274.5" width="21" height="12" fill="none" stroke="#b5b5b5"/><rect x="249" y="1286" width="5" height="12" fill="#f0f0f0"/><rect x="249.5" y="1287" width="4.5" height="11" fill="rgb(234,220,220)"/><rect x="249.5" y="1286.5" width="5" height="12" fill="none" stroke="#b5b5b5"/><rect x="233" y="1298" width="21" height="12" fill="#f0f0f0"/><rect x="233.5" y="1299" width="20.5" height="11" fill="rgb(220,188,188)"/><rect x="233.5" y="1298.5" width="21" height="12" fill="none" stroke="#b5b5b5"/><rect x="254" y="1310" width="31" height="12" fill="#f0f0f0"/><rect x="254.5" y="1311" width="3.5" height="11" fill="rgb(228,207,207)"/><rect x="272.0" y="1311" width="4.0" height="11" fill="rgb(234,220,220)"/><rect x="278.0" y="1311" width="4.0" height="11" fill="rgb(228,207,207)"/><rect x="254.5" y="1310.5" width="31" height="12" fill="none" stroke="#b5b5b5"/><rect x="257" y="1322" width="46" height="12" fill="#f0f0f0"/><rect x="257.5" y="1323" width="45.1" height="11" fill="rgb(228,207,207)"/><rect x="257.5" y="1322.5" width="46" height="12" fill="none" stroke="#b5b5b5"/><rect x="258" y="1334" width="6" height="12" fill="#f0f0f0"/><rect x="258.5" y="1334.5" width="6" height="12" fill="none" stroke="#b5b5b5"/><rect x="260" y="1346" width="51" height="12" fill="#f0f0f0"/><rect x="260.5" y="1347" width="50.1" height="11" fill="rgb(228,207,207)"/><rect x="260.5" y="1346.5" width="51" height="12" fill="none" stroke="#b5b5b5"/><rect x="266" y="1358" width="22" height="12" fill="#f0f0f0"/><rect x="266.5" y="1359" width="21.5" height="11" fill="rgb(228,207,207)"/><rect x="266.5" y="1358.5" width="22" height="12" fill="none" stroke="#b5b5b5"/><rect x="303" y="1370" width="6" height="12" fill="#f0f0f0"/><rect x="304.0" y="1371" width="3.0" height="11" fill="rgb(228,207,207)"/><rect x="303.5" y="1370.5" width="6" height="12" fill="none" stroke="#b5b5b5"/><rect x="310" y="1382" width="2" height="12" fill="#f0f0f0"/><rect x="310.5" y="1382.5" width="2" height="12" fill="none" stroke="#b5b5b5"/><rect x="310" y="1394" width="7" height="12" fill="#f0f0f0"/><rect x="310.5" y="1395" width="5.5" height="11" fill="rgb(228,207,207)"/><rect x="310.5" y="1394.5" width="7" height="12" fill="none" stroke="#b5b5b5"/><rect x="310" y="1406" width="18" height="12" fill="#f0f0f0"/><rect x="310.5" y="1407" width="7.5" height="11" fill="rgb(228,207,207)"/><rect x="322.0" y="1407" width="6.0" height="11" fill="rgb(234,220,220)"/><rect x="310.5" y="1406.5" width="18" height="12" fill="none" stroke="#b5b5b5"/><rect x="310" y="1418" width="2" height="12" fill="#f0f0f0"/><rect x="310.5" y="1418.5" width="2" height="12" fill="none" stroke="#b5b5b5"/><rect x="310" y="1430" width="4" height="12" fill="#f0f0f0"/><rect x="310.5" y="1431" width="3.5" height="11" fill="rgb(228,207,207)"/><rect x="310.5" y="1430.5" width="4" height="12" fill="none" stroke="#b5b5b5"/><rect x="313" y="1442" width="1" height="12" fill="#f0f0f0"/><rect x="313.5" y="1442.5" width="1" height="12" fill="none" stroke="#b5b5b5"/><rect x="313" y="1454" width="1" height="12" fill="#f0f0f0"/><rect x="313.5" y="1454.5" width="1" height="12" fill="none" stroke="#b5b5b5"/><rect x="329" y="1466" width="3" height="12" fill="#f0f0f0"/><rect x="329.5" y="1466.5" width="3" height="12" fill="none" stroke="#b5b5b5"/><rect x="329" y="1478" width="3" height="12" fill="#f0f0f0"/><rect x="329.5" y="1478.5" width="3" height="12" fill="none" stroke="#b5b5b5"/><rect x="431" y="1490" width="7" height="12" fill="#f0f0f0"/><rect x="432.0" y="1491" width="6.0" height="11" fill="rgb(228,207,207)"/><rect x="431.5" y="1490.5" width="7" height="12" fill="none" stroke="#b5b5b5"/><rect x="229" y="1502" width="46" height="12" fill="#f0f0f0"/><rect x="229.5" y="1502.5" width="46" height="12" fill="none" stroke="#b5b5b5"/><rect x="230" y="1514" width="6" height="12" fill="#f0f0f0"/><rect x="231.0" y="1515" width="4.0" height="11" fill="rgb(228,207,207)"/><rect x="230.5" y="1514.5" width="6" height="12" fill="none" stroke="#b5b5b5"/><rect x="230" y="1526" width="46" height="12" fill="#f0f0f0"/><rect x="230.5" y="1526.5" width="46" height="12" fill="none" stroke="#b5b5b5"/><rect x="236" y="1538" width="40" height="12" fill="#f0f0f0"/><rect x="236.5" y="1539" width="39.5" height="11" fill="rgb(228,207,207)"/><rect x="236.5" y="1538.5" width="40" height="12" fill="none" stroke="#b5b5b5"/><rect x="229" y="1550" width="104" height="12" fill="#f0f0f0"/><rect x="229.5" y="1550.5" width="104" height="12" fill="none" stroke="#b5b5b5"/><rect x="238" y="1562" width="54" height="12" fill="#f0f0f0"/><rect x="238.5" y="1563" width="2.5" height="11" fill="rgb(228,207,207)"/><rect x="238.5" y="1562.5" width="54" height="12" fill="none" stroke="#b5b5b5"/><rect x="241" y="1574" width="51" height="12" fill="#f0f0f0"/><rect x="241.5" y="1574.5" width="51" height="12" fill="none" stroke="#b5b5b5"/><rect x="242" y="1586" width="14" height="12" fill="#f0f0f0"/><rect x="243.0" y="1587" width="2.0" height="11" fill="rgb(234,220,220)"/><rect x="247.0" y="1587" width="2.0" height="11" fill="rgb(234,220,220)"/><rect x="251.0" y="1587" width="2.0" height="11" fill="rgb(234,220,220)"/><rect x="242.5" y="1586.5" width="14" height="12" fill="none" stroke="#b5b5b5"/><rect x="258" y="1598" width="6" height="12" fill="#f0f0f0"/><rect x="259.0" y="1599" width="4.0" height="11" fill="rgb(228,207,207)"/><rect x="258.5" y="1598.5" width="6" height="12" fill="none" stroke="#b5b5b5"/><rect x="264" y="1610" width="28" height="12" fill="#f0f0f0"/><rect x="264.5" y="1610.5" width="28" height="12" fill="none" stroke="#b5b5b5"/><rect x="264" y="1622" width="20" height="12" fill="#f0f0f0"/><rect x="266.0" y="1623" width="12.0" height="11" fill="rgb(228,207,207)"/><rect x="264.5" y="1622.5" width="20" height="12" fill="none" stroke="#b5b5b5"/><rect x="264" y="1634" width="4" height="12" fill="#f0f0f0"/><rect x="264.5" y="1634.5" width="4" height="12" fill="none" stroke="#b5b5b5"/><rect x="268" y="1646" width="16" height="12" fill="#f0f0f0"/><rect x="269.0" y="1647" width="15.0" height="11" fill="rgb(228,207,207)"/><rect x="268.5" y="1646.5" width="16" height="12" fill="none" stroke="#b5b5b5"/><rect x="283" y="1658" width="5" height="12" fill="#f0f0f0"/><rect x="283.5" y="1658.5" width="5" height="12" fill="none" stroke="#b5b5b5"/><rect x="285" y="1670" width="3" height="12" fill="#f0f0f0"/><rect x="285.5" y="1670.5" width="3" height="12" fill="none" stroke="#b5b5b5"/><rect x="288" y="1682" width="2" height="12" fill="#f0f0f0"/><rect x="288.5" y="1682.5" width="2" height="12" fill="none" stroke="#b5b5b5"/><rect x="245" y="1694" width="592" height="12" fill="#f0f0f0"/><rect x="468.6" y="1695" width="2.4" height="11" fill="rgb(234,220,220)"/><rect x="245.5" y="1694.5" width="592" height="12" fill="none" stroke="#b5b5b5"/><rect x="470" y="1706" width="15" height="12" fill="#f0f0f0"/><rect x="470.5" y="1707" width="14.5" height="11" fill="rgb(228,207,207)"/><rect x="470.5" y="1706.5" width="15" height="12" fill="none" stroke="#b5b5b5"/><rect x="501" y="1718" width="336" height="12" fill="#f0f0f0"/><rect x="501.5" y="1719" width="9.2" height="11" fill="rgb(228,207,207)"/><rect x="510.7" y="1719" width="1.0" height="11" fill="rgb(102,140,178)"/><rect x="501.5" y="1718.5" width="336" height="12" fill="none" stroke="#b5b5b5"/><rect x="559" y="1730" width="278" height="12" fill="#f0f0f0"/><rect x="559.5" y="1730.5" width="278" height="12" fill="none" stroke="#b5b5b5"/><rect x="332" y="1742" width="121" height="12" fill="#f0f0f0"/><rect x="332.5" y="1743" width="1.5" height="11" fill="rgb(228,207,207)"/><rect x="332.5" y="1742.5" width="121" height="12" fill="none" stroke="#b5b5b5"/><rect x="334" y="1754" width="119" height="12" fill="#f0f0f0"/><rect x="334.5" y="1755" width="118.5" height="11" fill="rgb(220,188,188)"/><rect x="334.5" y="1754.5" width="119" height="12" fill="none" stroke="#b5b5b5"/><rect x="440" y="1766" width="30" height="12" fill="#f0f0f0"/><rect x="440.5" y="1767" width="29.1" height="11" fill="rgb(228,207,207)"/><rect x="440.5" y="1766.5" width="30" height="12" fill="none" stroke="#b5b5b5"/><rect x="440" y="1778" width="4" height="12" fill="#f0f0f0"/><rect x="440.5" y="1778.5" width="4" height="12" fill="none" stroke="#b5b5b5"/><rect x="440" y="1790" width="397" height="12" fill="#f0f0f0"/><rect x="440.5" y="1791" width="29.2" height="11" fill="rgb(234,220,220)"/><rect x="499.4" y="1791" width="7.4" height="11" fill="rgb(234,220,220)"/><rect x="521.7" y="1791" width="5.0" height="11" fill="rgb(234,220,220)"/><rect x="529.0" y="1791" width="20.0" height="11" fill="rgb(234,220,220)"/><rect x="551.5" y="1791" width="4.9" height="11" fill="rgb(234,220,220)"/><rect x="440.5" y="1790.5" width="397" height="12" fill="none" stroke="#b5b5b5"/><rect x="497" y="1802" width="340" height="12" fill="#f0f0f0"/><rect x="497.5" y="1802.5" width="340" height="12" fill="none" stroke="#b5b5b5"/><rect x="507" y="1814" width="20" height="12" fill="#f0f0f0"/><rect x="507.5" y="1815" width="4.5" height="11" fill="rgb(234,220,220)"/><rect x="507.5" y="1814.5" width="20" height="12" fill="none" stroke="#b5b5b5"/><rect x="509" y="1826" width="14" height="12" fill="#f0f0f0"/><rect x="510.0" y="1827" width="12.7" height="11" fill="rgb(228,207,207)"/><rect x="509.5" y="1826.5" width="14" height="12" fill="none" stroke="#b5b5b5"/><rect x="547" y="1838" width="10" height="12" fill="#f0f0f0"/><rect x="547.5" y="1838.5" width="10" height="12" fill="none" stroke="#b5b5b5"/><rect x="547" y="1850" width="10" height="12" fill="#f0f0f0"/><rect x="547.5" y="1850.5" width="10" height="12" fill="none" stroke="#b5b5b5"/><rect x="547" y="1862" width="290" height="12" fill="#f0f0f0"/><rect x="547.5" y="1862.5" width="290" height="12" fill="none" stroke="#b5b5b5"/><rect x="547" y="1874" width="10" height="12" fill="#f0f0f0"/><rect x="547.5" y="1874.5" width="10" height="12" fill="none" stroke="#b5b5b5"/><rect x="547" y="1886" width="10" height="12" fill="#f0f0f0"/><rect x="547.5" y="1886.5" width="10" height="12" fill="none" stroke="#b5b5b5"/><rect x="547" y="1898" width="6" height="12" fill="#f0f0f0"/><rect x="547.5" y="1898.5" width="6" height="12" fill="none" stroke="#b5b5b5"/><rect x="547" y="1910" width="10" height="12" fill="#f0f0f0"/><rect x="547.5" y="1910.5" width="10" height="12" fill="none" stroke="#b5b5b5"/><rect x="547" y="1922" width="10" height="12" fill="#f0f0f0"/><rect x="547.5" y="1922.5" width="10" height="12" fill="none" stroke="#b5b5b5"/><rect x="548" y="1934" width="4" height="12" fill="#f0f0f0"/><rect x="548.5" y="1934.5" width="4" height="12" fill="none" stroke="#b5b5b5"/><rect x="549" y="1946" width="3" height="12" fill="#f0f0f0"/><rect x="549.5" y="1946.5" width="3" height="12" fill="none" stroke="#b5b5b5"/><rect x="549" y="1958" width="8" height="12" fill="#f0f0f0"/><rect x="549.5" y="1958.5" width="8" height="12" fill="none" stroke="#b5b5b5"/><rect x="549" y="1970" width="8" height="12" fill="#f0f0f0"/><rect x="549.5" y="1970.5" width="8" height="12" fill="none" stroke="#b5b5b5"/><rect x="549" y="1982" width="288" height="12" fill="#f0f0f0"/><rect x="549.5" y="1982.5" width="288" height="12" fill="none" stroke="#b5b5b5"/><rect x="550" y="1994" width="287" height="12" fill="#f0f0f0"/><rect x="556.5" y="1995" width="2.5" height="11" fill="rgb(234,220,220)"/><rect x="550.5" y="1994.5" width="287" height="12" fill="none" stroke="#b5b5b5"/><rect x="552" y="2006" width="5" height="12" fill="#f0f0f0"/><rect x="553.0" y="2007" width="3.0" height="11" fill="rgb(228,207,207)"/><rect x="552.5" y="2006.5" width="5" height="12" fill="none" stroke="#b5b5b5"/><rect x="552" y="2018" width="5" height="12" fill="#f0f0f0"/><rect x="552.5" y="2018.5" width="5" height="12" fill="none" stroke="#b5b5b5"/><rect x="554" y="2030" width="283" height="12" fill="#f0f0f0"/><rect x="554.5" y="2030.5" width="283" height="12" fill="none" stroke="#b5b5b5"/><rect x="556" y="2042" width="281" height="12" fill="#f0f0f0"/><rect x="556.5" y="2042.5" width="281" height="12" fill="none" stroke="#b5b5b5"/><rect x="556" y="2054" width="281" height="12" fill="#f0f0f0"/><rect x="556.5" y="2054.5" width="281" height="12" fill="none" stroke="#b5b5b5"/><rect x="527" y="2066" width="3" height="12" fill="#f0f0f0"/><rect x="527.5" y="2066.5" width="3" height="12" fill="none" stroke="#b5b5b5"/><rect x="439" y="2078" width="78" height="12" fill="#f0f0f0"/><rect x="512.3" y="2079" width="4.7" height="11" fill="#b0b0b0"/><rect x="439.5" y="2078.5" width="78" height="12" fill="none" stroke="#b5b5b5"/><rect x="439" y="2090" width="69" height="12" fill="#f0f0f0"/><rect x="445.0" y="2091" width="2.0" height="11" fill="rgb(234,220,220)"/><rect x="450.0" y="2091" width="2.0" height="11" fill="rgb(234,220,220)"/><rect x="492.0" y="2091" width="2.0" height="11" fill="rgb(234,220,220)"/><rect x="439.5" y="2090.5" width="69" height="12" fill="none" stroke="#b5b5b5"/><rect x="440" y="2102" width="4" height="12" fill="#f0f0f0"/><rect x="441.0" y="2103" width="3.0" height="11" fill="rgb(228,207,207)"/><rect x="440.5" y="2102.5" width="4" height="12" fill="none" stroke="#b5b5b5"/><rect x="450" y="2114" width="13" height="12" fill="#f0f0f0"/><rect x="451.0" y="2115" width="12.0" height="11" fill="rgb(228,207,207)"/><rect x="450.5" y="2114.5" width="13" height="12" fill="none" stroke="#b5b5b5"/><rect x="463" y="2126" width="3" height="12" fill="#f0f0f0"/><rect x="463.5" y="2126.5" width="3" height="12" fill="none" stroke="#b5b5b5"/><rect x="465" y="2138" width="3" height="12" fill="#f0f0f0"/><rect x="465.5" y="2138.5" width="3" height="12" fill="none" stroke="#b5b5b5"/><rect x="466" y="2150" width="3" height="12" fill="#f0f0f0"/><rect x="466.5" y="2150.5" width="3" height="12" fill="none" stroke="#b5b5b5"/><rect x="473" y="2162" width="10" height="12" fill="#f0f0f0"/><rect x="473.5" y="2162.5" width="10" height="12" fill="none" stroke="#b5b5b5"/><rect x="475" y="2174" width="6" height="12" fill="#f0f0f0"/><rect x="476.0" y="2175" width="4.0" height="11" fill="rgb(228,207,207)"/><rect x="475.5" y="2174.5" width="6" height="12" fill="none" stroke="#b5b5b5"/><rect x="482" y="2186" width="2" height="12" fill="#f0f0f0"/><rect x="482.5" y="2186.5" width="2" height="12" fill="none" stroke="#b5b5b5"/><rect x="486" y="2198" width="4" height="12" fill="#f0f0f0"/><rect x="486.5" y="2199" width="2.5" height="11" fill="rgb(228,207,207)"/><rect x="486.5" y="2198.5" width="4" height="12" fill="none" stroke="#b5b5b5"/><rect x="492" y="2210" width="5" height="12" fill="#f0f0f0"/><rect x="492.5" y="2210.5" width="5" height="12" fill="none" stroke="#b5b5b5"/><rect x="494" y="2222" width="5" height="12" fill="#f0f0f0"/><rect x="495.0" y="2223" width="3.0" height="11" fill="rgb(228,207,207)"/><rect x="494.5" y="2222.5" width="5" height="12" fill="none" stroke="#b5b5b5"/><rect x="500" y="2234" width="2" height="12" fill="#f0f0f0"/><rect x="500.5" y="2234.5" width="2" height="12" fill="none" stroke="#b5b5b5"/><rect x="503" y="2246" width="6" height="12" fill="#f0f0f0"/><rect x="503.5" y="2246.5" width="6" height="12" fill="none" stroke="#b5b5b5"/><rect x="504" y="2258" width="3" height="12" fill="#f0f0f0"/><rect x="504.5" y="2258.5" width="3" height="12" fill="none" stroke="#b5b5b5"/><rect x="504" y="2270" width="4" height="12" fill="#f0f0f0"/><rect x="505.0" y="2271" width="2.0" height="11" fill="rgb(234,220,220)"/><rect x="504.5" y="2270.5" width="4" height="12" fill="none" stroke="#b5b5b5"/><rect x="440" y="2282" width="25" height="12" fill="#f0f0f0"/><rect x="440.5" y="2283" width="24.2" height="11" fill="rgb(228,207,207)"/><rect x="440.5" y="2282.5" width="25" height="12" fill="none" stroke="#b5b5b5"/><rect x="441" y="2294" width="396" height="12" fill="#f0f0f0"/><rect x="441.5" y="2295" width="24.2" height="11" fill="rgb(228,207,207)"/><rect x="441.5" y="2294.5" width="396" height="12" fill="none" stroke="#b5b5b5"/><rect x="447" y="2306" width="390" height="12" fill="#f0f0f0"/><rect x="447.5" y="2307" width="4.5" height="11" fill="rgb(228,207,207)"/><rect x="447.5" y="2306.5" width="390" height="12" fill="none" stroke="#b5b5b5"/><rect x="466" y="2318" width="371" height="12" fill="#f0f0f0"/><rect x="466.5" y="2318.5" width="371" height="12" fill="none" stroke="#b5b5b5"/><rect x="469" y="2330" width="32" height="12" fill="#f0f0f0"/><rect x="470.7" y="2331" width="30.2" height="11" fill="rgb(228,207,207)"/><rect x="469.5" y="2330.5" width="32" height="12" fill="none" stroke="#b5b5b5"/><rect x="486" y="2342" width="351" height="12" fill="#f0f0f0"/><rect x="486.5" y="2343" width="10.5" height="11" fill="rgb(228,207,207)"/><rect x="486.5" y="2342.5" width="351" height="12" fill="none" stroke="#b5b5b5"/><rect x="500" y="2354" width="337" height="12" fill="#f0f0f0"/><rect x="500.5" y="2355" width="58.5" height="11" fill="rgb(228,207,207)"/><rect x="500.5" y="2354.5" width="337" height="12" fill="none" stroke="#b5b5b5"/><rect x="621" y="2366" width="216" height="12" fill="#f0f0f0"/><rect x="621.5" y="2367" width="2.5" height="11" fill="rgb(234,220,220)"/><rect x="621.5" y="2366.5" width="216" height="12" fill="none" stroke="#b5b5b5"/><rect x="623" y="2378" width="3" height="12" fill="#f0f0f0"/><rect x="623.5" y="2378.5" width="3" height="12" fill="none" stroke="#b5b5b5"/><rect x="511" y="2390" width="326" height="12" fill="#f0f0f0"/><rect x="511.5" y="2391" width="3.5" height="11" fill="rgb(228,207,207)"/><rect x="511.5" y="2390.5" width="326" height="12" fill="none" stroke="#b5b5b5"/><rect x="511" y="2402" width="326" height="12" fill="#f0f0f0"/><rect x="533.0" y="2403" width="3.0" height="11" fill="rgb(234,220,220)"/><rect x="551.5" y="2403" width="2.5" height="11" fill="rgb(234,220,220)"/><rect x="615.0" y="2403" width="5.0" height="11" fill="rgb(234,220,220)"/><rect x="723.6" y="2403" width="2.4" height="11" fill="rgb(234,220,220)"/><rect x="511.5" y="2402.5" width="326" height="12" fill="none" stroke="#b5b5b5"/><rect x="513" y="2414" width="324" height="12" fill="#f0f0f0"/><rect x="513.5" y="2415" width="3.5" height="11" fill="rgb(228,207,207)"/><rect x="513.5" y="2414.5" width="324" height="12" fill="none" stroke="#b5b5b5"/><rect x="514" y="2426" width="6" height="12" fill="#f0f0f0"/><rect x="514.5" y="2427" width="4.0" height="11" fill="rgb(232,120,120)"/><rect x="514.5" y="2426.5" width="6" height="12" fill="none" stroke="#b5b5b5"/><rect x="515" y="2438" width="16" height="12" fill="#f0f0f0"/><rect x="515.5" y="2438.5" width="16" height="12" fill="none" stroke="#b5b5b5"/><rect x="517" y="2450" width="14" height="12" fill="#f0f0f0"/><rect x="518.4" y="2451" width="8.9" height="11" fill="rgb(234,220,220)"/><rect x="528.3" y="2451" width="2.4" height="11" fill="rgb(102,140,178)"/><rect x="517.5" y="2450.5" width="14" height="12" fill="none" stroke="#b5b5b5"/><rect x="514" y="2462" width="323" height="12" fill="#f0f0f0"/><rect x="514.5" y="2462.5" width="323" height="12" fill="none" stroke="#b5b5b5"/><rect x="515" y="2474" width="3" height="12" fill="#f0f0f0"/><rect x="516.0" y="2475" width="2.0" height="11" fill="rgb(232,120,120)"/><rect x="515.5" y="2474.5" width="3" height="12" fill="none" stroke="#b5b5b5"/><rect x="515" y="2486" width="322" height="12" fill="#f0f0f0"/><rect x="515.5" y="2486.5" width="322" height="12" fill="none" stroke="#b5b5b5"/><rect x="516" y="2498" width="15" height="12" fill="#f0f0f0"/><rect x="516.5" y="2498.5" width="15" height="12" fill="none" stroke="#b5b5b5"/><rect x="518" y="2510" width="13" height="12" fill="#f0f0f0"/><rect x="518.5" y="2510.5" width="13" height="12" fill="none" stroke="#b5b5b5"/><rect x="519" y="2522" width="2" height="12" fill="#f0f0f0"/><rect x="519.5" y="2522.5" width="2" height="12" fill="none" stroke="#b5b5b5"/><rect x="521" y="2534" width="4" height="12" fill="#f0f0f0"/><rect x="521.5" y="2534.5" width="4" height="12" fill="none" stroke="#b5b5b5"/><rect x="525" y="2546" width="4" height="12" fill="#f0f0f0"/><rect x="525.5" y="2547" width="3.5" height="11" fill="rgb(234,220,220)"/><rect x="525.5" y="2546.5" width="4" height="12" fill="none" stroke="#b5b5b5"/><rect x="515" y="2558" width="5" height="12" fill="#f0f0f0"/><rect x="516.0" y="2559" width="4.0" height="11" fill="rgb(228,207,207)"/><rect x="515.5" y="2558.5" width="5" height="12" fill="none" stroke="#b5b5b5"/><rect x="516" y="2570" width="4" height="12" fill="#f0f0f0"/><rect x="516.5" y="2570.5" width="4" height="12" fill="none" stroke="#b5b5b5"/><rect x="519" y="2582" width="318" height="12" fill="#f0f0f0"/><rect x="519.5" y="2582.5" width="318" height="12" fill="none" stroke="#b5b5b5"/><rect x="519" y="2594" width="318" height="12" fill="#f0f0f0"/><rect x="519.5" y="2594.5" width="318" height="12" fill="none" stroke="#b5b5b5"/><rect x="530" y="2606" width="4" height="12" fill="#f0f0f0"/><rect x="530.5" y="2606.5" width="4" height="12" fill="none" stroke="#b5b5b5"/><rect x="533" y="2618" width="304" height="12" fill="#f0f0f0"/><rect x="533.5" y="2619" width="5.2" height="11" fill="rgb(228,207,207)"/><rect x="533.5" y="2618.5" width="304" height="12" fill="none" stroke="#b5b5b5"/><rect x="536" y="2630" width="15" height="12" fill="#f0f0f0"/><rect x="540.0" y="2631" width="2.0" height="11" fill="rgb(234,220,220)"/><rect x="544.0" y="2631" width="2.0" height="11" fill="rgb(234,220,220)"/><rect x="536.5" y="2630.5" width="15" height="12" fill="none" stroke="#b5b5b5"/><rect x="537" y="2642" width="7" height="12" fill="#f0f0f0"/><rect x="537.5" y="2642.5" width="7" height="12" fill="none" stroke="#b5b5b5"/><rect x="537" y="2654" width="7" height="12" fill="#f0f0f0"/><rect x="538.0" y="2655" width="4.0" height="11" fill="rgb(228,207,207)"/><rect x="537.5" y="2654.5" width="7" height="12" fill="none" stroke="#b5b5b5"/><rect x="537" y="2666" width="7" height="12" fill="#f0f0f0"/><rect x="537.5" y="2666.5" width="7" height="12" fill="none" stroke="#b5b5b5"/><rect x="545" y="2678" width="6" height="12" fill="#f0f0f0"/><rect x="546.0" y="2679" width="4.0" height="11" fill="rgb(228,207,207)"/><rect x="545.5" y="2678.5" width="6" height="12" fill="none" stroke="#b5b5b5"/><rect x="550" y="2690" width="287" height="12" fill="#f0f0f0"/><rect x="550.5" y="2690.5" width="287" height="12" fill="none" stroke="#b5b5b5"/><rect x="554" y="2702" width="4" height="12" fill="#f0f0f0"/><rect x="554.5" y="2702.5" width="4" height="12" fill="none" stroke="#b5b5b5"/><rect x="556" y="2714" width="3" height="12" fill="#f0f0f0"/><rect x="556.5" y="2714.5" width="3" height="12" fill="none" stroke="#b5b5b5"/><rect x="558" y="2726" width="56" height="12" fill="#f0f0f0"/><rect x="558.5" y="2727" width="5.0" height="11" fill="rgb(228,207,207)"/><rect x="558.5" y="2726.5" width="56" height="12" fill="none" stroke="#b5b5b5"/><rect x="563" y="2738" width="9" height="12" fill="#f0f0f0"/><rect x="564.0" y="2739" width="8.0" height="11" fill="rgb(228,207,207)"/><rect x="563.5" y="2738.5" width="9" height="12" fill="none" stroke="#b5b5b5"/><rect x="575" y="2750" width="40" height="12" fill="#f0f0f0"/><rect x="575.5" y="2750.5" width="40" height="12" fill="none" stroke="#b5b5b5"/><rect x="575" y="2762" width="40" height="12" fill="#f0f0f0"/><rect x="576.8" y="2763" width="8.5" height="11" fill="rgb(228,207,207)"/><rect x="575.5" y="2762.5" width="40" height="12" fill="none" stroke="#b5b5b5"/><rect x="598" y="2774" width="3" height="12" fill="#f0f0f0"/><rect x="598.5" y="2775" width="2.5" height="11" fill="rgb(228,207,207)"/><rect x="598.5" y="2774.5" width="3" height="12" fill="none" stroke="#b5b5b5"/><rect x="606" y="2786" width="2" height="12" fill="#f0f0f0"/><rect x="606.5" y="2786.5" width="2" height="12" fill="none" stroke="#b5b5b5"/><rect x="578" y="2798" width="259" height="12" fill="#f0f0f0"/><rect x="578.5" y="2798.5" width="259" height="12" fill="none" stroke="#b5b5b5"/><rect x="602" y="2810" width="235" height="12" fill="#f0f0f0"/><rect x="602.5" y="2810.5" width="235" height="12" fill="none" stroke="#b5b5b5"/><rect x="602" y="2822" width="235" height="12" fill="#f0f0f0"/><rect x="602.5" y="2822.5" width="235" height="12" fill="none" stroke="#b5b5b5"/><rect x="604" y="2834" width="233" height="12" fill="#f0f0f0"/><rect x="604.5" y="2834.5" width="233" height="12" fill="none" stroke="#b5b5b5"/><rect x="605" y="2846" width="232" height="12" fill="#f0f0f0"/><rect x="605.5" y="2847" width="0.5" height="11" fill="rgb(234,220,220)"/><rect x="605.5" y="2846.5" width="232" height="12" fill="none" stroke="#b5b5b5"/><rect x="606" y="2858" width="231" height="12" fill="#f0f0f0"/><rect x="606.5" y="2858.5" width="231" height="12" fill="none" stroke="#b5b5b5"/><rect x="608" y="2870" width="6" height="12" fill="#f0f0f0"/><rect x="609.0" y="2871" width="4.0" height="11" fill="rgb(228,207,207)"/><rect x="608.5" y="2870.5" width="6" height="12" fill="none" stroke="#b5b5b5"/><rect x="621" y="2882" width="3" height="12" fill="#f0f0f0"/><rect x="621.5" y="2882.5" width="3" height="12" fill="none" stroke="#b5b5b5"/><rect x="624" y="2894" width="56" height="12" fill="#f0f0f0"/><rect x="624.5" y="2895" width="2.9" height="11" fill="rgb(228,207,207)"/><rect x="624.5" y="2894.5" width="56" height="12" fill="none" stroke="#b5b5b5"/><rect x="627" y="2906" width="53" height="12" fill="#f0f0f0"/><rect x="627.5" y="2907" width="4.9" height="11" fill="rgb(228,207,207)"/><rect x="627.5" y="2906.5" width="53" height="12" fill="none" stroke="#b5b5b5"/><rect x="634" y="2918" width="46" height="12" fill="#f0f0f0"/><rect x="634.5" y="2919" width="2.8" height="11" fill="rgb(228,207,207)"/><rect x="634.5" y="2918.5" width="46" height="12" fill="none" stroke="#b5b5b5"/><rect x="637" y="2930" width="39" height="12" fill="#f0f0f0"/><rect x="637.5" y="2930.5" width="39" height="12" fill="none" stroke="#b5b5b5"/><rect x="641" y="2942" width="35" height="12" fill="#f0f0f0"/><rect x="641.5" y="2942.5" width="35" height="12" fill="none" stroke="#b5b5b5"/><rect x="641" y="2954" width="35" height="12" fill="#f0f0f0"/><rect x="641.5" y="2955" width="12.5" height="11" fill="rgb(228,207,207)"/><rect x="656.0" y="2955" width="20.0" height="11" fill="rgb(228,207,207)"/><rect x="641.5" y="2954.5" width="35" height="12" fill="none" stroke="#b5b5b5"/><rect x="676" y="2966" width="4" height="12" fill="#f0f0f0"/><rect x="677.0" y="2967" width="2.0" height="11" fill="rgb(228,207,207)"/><rect x="676.5" y="2966.5" width="4" height="12" fill="none" stroke="#b5b5b5"/><rect x="680" y="2978" width="157" height="12" fill="#f0f0f0"/><rect x="680.5" y="2978.5" width="157" height="12" fill="none" stroke="#b5b5b5"/><rect x="682" y="2990" width="155" height="12" fill="#f0f0f0"/><rect x="682.5" y="2991" width="4.5" height="11" fill="rgb(228,207,207)"/><rect x="682.5" y="2990.5" width="155" height="12" fill="none" stroke="#b5b5b5"/><rect x="689" y="3002" width="148" height="12" fill="#f0f0f0"/><rect x="689.5" y="3002.5" width="148" height="12" fill="none" stroke="#b5b5b5"/><rect x="683" y="3014" width="5" height="12" fill="#f0f0f0"/><rect x="683.5" y="3014.5" width="5" height="12" fill="none" stroke="#b5b5b5"/><rect x="684" y="3026" width="5" height="12" fill="#f0f0f0"/><rect x="685.0" y="3027" width="3.0" height="11" fill="rgb(228,207,207)"/><rect x="684.5" y="3026.5" width="5" height="12" fill="none" stroke="#b5b5b5"/><rect x="688" y="3038" width="149" height="12" fill="#f0f0f0"/><rect x="688.5" y="3039" width="1.5" height="11" fill="rgb(234,220,220)"/><rect x="688.5" y="3038.5" width="149" height="12" fill="none" stroke="#b5b5b5"/><rect x="691" y="3050" width="31" height="12" fill="#f0f0f0"/><rect x="691.5" y="3050.5" width="31" height="12" fill="none" stroke="#b5b5b5"/><rect x="694" y="3062" width="3" height="12" fill="#f0f0f0"/><rect x="694.5" y="3062.5" width="3" height="12" fill="none" stroke="#b5b5b5"/><rect x="694" y="3074" width="3" height="12" fill="#f0f0f0"/><rect x="694.5" y="3074.5" width="3" height="12" fill="none" stroke="#b5b5b5"/><rect x="694" y="3086" width="3" height="12" fill="#f0f0f0"/><rect x="694.5" y="3086.5" width="3" height="12" fill="none" stroke="#b5b5b5"/><rect x="697" y="3098" width="23" height="12" fill="#f0f0f0"/><rect x="697.5" y="3098.5" width="23" height="12" fill="none" stroke="#b5b5b5"/><rect x="697" y="3110" width="23" height="12" fill="#f0f0f0"/><rect x="698.0" y="3111" width="22.0" height="11" fill="rgb(228,207,207)"/><rect x="697.5" y="3110.5" width="23" height="12" fill="none" stroke="#b5b5b5"/><rect x="690" y="3122" width="32" height="12" fill="#f0f0f0"/><rect x="690.5" y="3122.5" width="32" height="12" fill="none" stroke="#b5b5b5"/><rect x="691" y="3134" width="31" height="12" fill="#f0f0f0"/><rect x="691.5" y="3135" width="1.5" height="11" fill="rgb(234,220,220)"/><rect x="695.0" y="3135" width="27.0" height="11" fill="rgb(228,207,207)"/><rect x="691.5" y="3134.5" width="31" height="12" fill="none" stroke="#b5b5b5"/><rect x="722" y="3146" width="18" height="12" fill="#f0f0f0"/><rect x="722.5" y="3146.5" width="18" height="12" fill="none" stroke="#b5b5b5"/><rect x="722" y="3158" width="18" height="12" fill="#f0f0f0"/><rect x="722.5" y="3158.5" width="18" height="12" fill="none" stroke="#b5b5b5"/><rect x="723" y="3170" width="16" height="12" fill="#f0f0f0"/><rect x="723.5" y="3171" width="3.5" height="11" fill="rgb(228,207,207)"/><rect x="723.5" y="3170.5" width="16" height="12" fill="none" stroke="#b5b5b5"/><rect x="723" y="3182" width="114" height="12" fill="#f0f0f0"/><rect x="723.5" y="3183" width="8.0" height="11" fill="rgb(228,207,207)"/><rect x="723.5" y="3182.5" width="114" height="12" fill="none" stroke="#b5b5b5"/><rect x="726" y="3194" width="4" height="12" fill="#f0f0f0"/><rect x="726.5" y="3194.5" width="4" height="12" fill="none" stroke="#b5b5b5"/><rect x="728" y="3206" width="4" height="12" fill="#f0f0f0"/><rect x="728.5" y="3206.5" width="4" height="12" fill="none" stroke="#b5b5b5"/><rect x="731" y="3218" width="106" height="12" fill="#f0f0f0"/><rect x="731.5" y="3218.5" width="106" height="12" fill="none" stroke="#b5b5b5"/><rect x="733" y="3230" width="5" height="12" fill="#f0f0f0"/><rect x="733.5" y="3230.5" width="5" height="12" fill="none" stroke="#b5b5b5"/><rect x="736" y="3242" width="25" height="12" fill="#f0f0f0"/><rect x="736.5" y="3242.5" width="25" height="12" fill="none" stroke="#b5b5b5"/><rect x="738" y="3254" width="25" height="12" fill="#f0f0f0"/><rect x="738.5" y="3254.5" width="25" height="12" fill="none" stroke="#b5b5b5"/><rect x="738" y="3266" width="99" height="12" fill="#f0f0f0"/><rect x="738.5" y="3266.5" width="99" height="12" fill="none" stroke="#b5b5b5"/><rect x="738" y="3278" width="99" height="12" fill="#f0f0f0"/><rect x="738.5" y="3278.5" width="99" height="12" fill="none" stroke="#b5b5b5"/><rect x="740" y="3290" width="97" height="12" fill="#f0f0f0"/><rect x="741.3" y="3291" width="5.7" height="11" fill="rgb(228,207,207)"/><rect x="748.0" y="3291" width="5.0" height="11" fill="rgb(228,207,207)"/><rect x="755.0" y="3291" width="6.0" height="11" fill="rgb(228,207,207)"/><rect x="762.3" y="3291" width="1.0" height="11" fill="rgb(102,140,178)"/><rect x="781.6" y="3291" width="1.0" height="11" fill="rgb(102,140,178)"/><rect x="784.0" y="3291" width="11.0" height="11" fill="rgb(228,207,207)"/><rect x="798.0" y="3291" width="13.0" height="11" fill="rgb(228,207,207)"/><rect x="812.0" y="3291" width="1.0" height="11" fill="rgb(102,140,178)"/><rect x="815.0" y="3291" width="7.0" height="11" fill="rgb(228,207,207)"/><rect x="740.5" y="3290.5" width="97" height="12" fill="none" stroke="#b5b5b5"/><rect x="822" y="3302" width="15" height="12" fill="#f0f0f0"/><rect x="822.5" y="3302.5" width="15" height="12" fill="none" stroke="#b5b5b5"/><rect x="822" y="3314" width="15" height="12" fill="#f0f0f0"/><rect x="824.0" y="3315" width="11.0" height="11" fill="rgb(228,207,207)"/><rect x="822.5" y="3314.5" width="15" height="12" fill="none" stroke="#b5b5b5"/><rect x="763" y="3326" width="24" height="12" fill="#f0f0f0"/><rect x="763.5" y="3326.5" width="24" height="12" fill="none" stroke="#b5b5b5"/><rect x="765" y="3338" width="72" height="12" fill="#f0f0f0"/><rect x="769.0" y="3339" width="9.7" height="11" fill="rgb(228,207,207)"/><rect x="780.0" y="3339" width="3.0" height="11" fill="rgb(228,207,207)"/><rect x="765.5" y="3338.5" width="72" height="12" fill="none" stroke="#b5b5b5"/><rect x="788" y="3350" width="3" height="12" fill="#f0f0f0"/><rect x="788.5" y="3350.5" width="3" height="12" fill="none" stroke="#b5b5b5"/><rect x="792" y="3362" width="30" height="12" fill="#f0f0f0"/><rect x="792.5" y="3362.5" width="30" height="12" fill="none" stroke="#b5b5b5"/><rect x="792" y="3374" width="29" height="12" fill="#f0f0f0"/><rect x="795.0" y="3375" width="23.0" height="11" fill="rgb(228,207,207)"/><rect x="792.5" y="3374.5" width="29" height="12" fill="none" stroke="#b5b5b5"/><rect x="819" y="3386" width="3" height="12" fill="#f0f0f0"/><rect x="819.5" y="3386.5" width="3" height="12" fill="none" stroke="#b5b5b5"/><rect x="824" y="3398" width="10" height="12" fill="#f0f0f0"/><rect x="824.5" y="3398.5" width="10" height="12" fill="none" stroke="#b5b5b5"/><rect x="823" y="3410" width="8" height="12" fill="#f0f0f0"/><rect x="823.5" y="3410.5" width="8" height="12" fill="none" stroke="#b5b5b5"/><rect x="823" y="3422" width="8" height="12" fill="#f0f0f0"/><rect x="823.5" y="3422.5" width="8" height="12" fill="none" stroke="#b5b5b5"/><rect x="826" y="3434" width="3" height="12" fill="#f0f0f0"/><rect x="826.5" y="3434.5" width="3" height="12" fill="none" stroke="#b5b5b5"/><rect x="834" y="3446" width="3" height="12" fill="#f0f0f0"/><rect x="834.5" y="3446.5" width="3" height="12" fill="none" stroke="#b5b5b5"/><rect x="834" y="3458" width="3" height="12" fill="#f0f0f0"/><rect x="834.5" y="3458.5" width="3" height="12" fill="none" stroke="#b5b5b5"/><rect x="10" y="3470" width="827" height="12" fill="#f0f0f0"/><rect x="10.5" y="3470.5" width="827" height="12" fill="none" stroke="#b5b5b5"/><rect x="13" y="3482" width="824" height="12" fill="#f0f0f0"/><rect x="13.5" y="3482.5" width="824" height="12" fill="none" stroke="#b5b5b5"/><rect x="260" y="3494" width="38" height="12" fill="#f0f0f0"/><rect x="260.5" y="3495" width="2.9" height="11" fill="rgb(228,207,207)"/><rect x="260.5" y="3494.5" width="38" height="12" fill="none" stroke="#b5b5b5"/><rect x="16" y="3506" width="821" height="12" fill="#f0f0f0"/><rect x="263.9" y="3507" width="11.9" height="11" fill="rgb(228,207,207)"/><rect x="16.5" y="3506.5" width="821" height="12" fill="none" stroke="#b5b5b5"/><rect x="20" y="3518" width="817" height="12" fill="#f0f0f0"/><rect x="383.9" y="3519" width="20.8" height="11" fill="rgb(228,207,207)"/><rect x="20.5" y="3518.5" width="817" height="12" fill="none" stroke="#b5b5b5"/><rect x="22" y="3530" width="38" height="12" fill="#f0f0f0"/><rect x="22.5" y="3530.5" width="38" height="12" fill="none" stroke="#b5b5b5"/><rect x="22" y="3542" width="36" height="12" fill="#f0f0f0"/><rect x="22.5" y="3542.5" width="36" height="12" fill="none" stroke="#b5b5b5"/><rect x="22" y="3554" width="56" height="12" fill="#f0f0f0"/><rect x="22.5" y="3554.5" width="56" height="12" fill="none" stroke="#b5b5b5"/><rect x="22" y="3566" width="56" height="12" fill="#f0f0f0"/><rect x="22.5" y="3566.5" width="56" height="12" fill="none" stroke="#b5b5b5"/><rect x="22" y="3578" width="56" height="12" fill="#f0f0f0"/><rect x="22.5" y="3578.5" width="56" height="12" fill="none" stroke="#b5b5b5"/><rect x="165" y="3590" width="672" height="12" fill="#f0f0f0"/><rect x="170.0" y="3591" width="3.5" height="11" fill="rgb(228,207,207)"/><rect x="446.3" y="3591" width="14.4" height="11" fill="rgb(228,207,207)"/><rect x="570.3" y="3591" width="1.3" height="11" fill="rgb(228,207,207)"/><rect x="165.5" y="3590.5" width="672" height="12" fill="none" stroke="#b5b5b5"/><rect x="258" y="3602" width="579" height="12" fill="#f0f0f0"/><rect x="258.5" y="3602.5" width="579" height="12" fill="none" stroke="#b5b5b5"/><rect x="263" y="3614" width="574" height="12" fill="#f0f0f0"/><rect x="263.5" y="3614.5" width="574" height="12" fill="none" stroke="#b5b5b5"/><rect x="293" y="3626" width="5" height="12" fill="#f0f0f0"/><rect x="294.0" y="3627" width="3.0" height="11" fill="rgb(228,207,207)"/><rect x="293.5" y="3626.5" width="5" height="12" fill="none" stroke="#b5b5b5"/><rect x="294" y="3638" width="543" height="12" fill="#f0f0f0"/><rect x="294.5" y="3638.5" width="543" height="12" fill="none" stroke="#b5b5b5"/><rect x="294" y="3650" width="543" height="12" fill="#f0f0f0"/><rect x="294.5" y="3650.5" width="543" height="12" fill="none" stroke="#b5b5b5"/><rect x="296" y="3662" width="3" height="12" fill="#f0f0f0"/><rect x="296.5" y="3662.5" width="3" height="12" fill="none" stroke="#b5b5b5"/><rect x="300" y="3674" width="28" height="12" fill="#f0f0f0"/><rect x="300.5" y="3675" width="2.5" height="11" fill="rgb(228,207,207)"/><rect x="303.0" y="3675" width="5.5" height="11" fill="rgb(102,140,178)"/><rect x="309.5" y="3675" width="5.0" height="11" fill="rgb(102,140,178)"/><rect x="315.5" y="3675" width="5.0" height="11" fill="rgb(102,140,178)"/><rect x="321.5" y="3675" width="6.5" height="11" fill="rgb(102,140,178)"/><rect x="300.5" y="3674.5" width="28" height="12" fill="none" stroke="#b5b5b5"/><rect x="301" y="3686" width="536" height="12" fill="#f0f0f0"/><rect x="301.5" y="3686.5" width="536" height="12" fill="none" stroke="#b5b5b5"/><rect x="328" y="3698" width="509" height="12" fill="#f0f0f0"/><rect x="328.5" y="3698.5" width="509" height="12" fill="none" stroke="#b5b5b5"/><rect x="330" y="3710" width="507" height="12" fill="#f0f0f0"/><rect x="330.5" y="3710.5" width="507" height="12" fill="none" stroke="#b5b5b5"/></g>
<g fill="rgb(48,48,48)">
<text x="414.3" y="300" textLength="18.5" lengthAdjust="spacingAndGlyphs">init</text>
<text x="420.8" y="312" textLength="49.4" lengthAdjust="spacingAndGlyphs">collector</text>
<text x="61.6" y="324" textLength="81.0" lengthAdjust="spacingAndGlyphs">console_setup</text>
<text x="374.3" y="336" textLength="43.4" lengthAdjust="spacingAndGlyphs">usplash</text>
<text x="64.6" y="348" textLength="27.7" lengthAdjust="spacingAndGlyphs">udev</text>
<text x="100.0" y="360" textLength="35.1" lengthAdjust="spacingAndGlyphs">udevd</text>
<text x="66.6" y="372" textLength="58.6" lengthAdjust="spacingAndGlyphs">modprobe</text>
<text x="69.6" y="384" textLength="27.9" lengthAdjust="spacingAndGlyphs">blkid</text>
<text x="72.6" y="396" textLength="27.9" lengthAdjust="spacingAndGlyphs">blkid</text>
<text x="72.6" y="408" textLength="29.9" lengthAdjust="spacingAndGlyphs">sleep</text>
<text x="112.5" y="420" textLength="19.9" lengthAdjust="spacingAndGlyphs">exe</text>
<text x="200.6" y="432" textLength="56.4" lengthAdjust="spacingAndGlyphs">hostname</text>
<text x="483.8" y="444" textLength="66.5" lengthAdjust="spacingAndGlyphs">sreadahead</text>
<text x="293.7" y="456" textLength="50.6" lengthAdjust="spacingAndGlyphs">mountall</text>
<text x="209.6" y="468" textLength="37.1" lengthAdjust="spacingAndGlyphs">mount</text>
<text x="363.7" y="480" textLength="22.7" lengthAdjust="spacingAndGlyphs">fsck</text>
<text x="350.6" y="492" textLength="51.7" lengthAdjust="spacingAndGlyphs">fsck.ext4</text>
<text x="364.5" y="504" textLength="37.1" lengthAdjust="spacingAndGlyphs">mount</text>
<text x="215.6" y="516" textLength="81.8" lengthAdjust="spacingAndGlyphs">dbus–uuidgen</text>
<text x="211.6" y="528" textLength="32.9" lengthAdjust="spacingAndGlyphs">mkdir</text>
<text x="213.6" y="540" textLength="37.3" lengthAdjust="spacingAndGlyphs">chown</text>
<text x="213.6" y="552" textLength="12.9" lengthAdjust="spacingAndGlyphs">sh</text>
<text x="213.6" y="564" textLength="17.7" lengthAdjust="spacingAndGlyphs">cat</text>
<text x="213.6" y="576" textLength="31.9" lengthAdjust="spacingAndGlyphs">sysctl</text>
<text x="473.6" y="588" textLength="95.9" lengthAdjust="spacingAndGlyphs">upstart–udev–br</text>
<text x="232.6" y="600" textLength="35.1" lengthAdjust="spacingAndGlyphs">udevd</text>
<text x="248.6" y="612" textLength="81.5" lengthAdjust="spacingAndGlyphs">dbus–daemon</text>
<text x="515.5" y="624" textLength="35.1" lengthAdjust="spacingAndGlyphs">udevd</text>
<text x="254.6" y="636" textLength="58.6" lengthAdjust="spacingAndGlyphs">modprobe</text>
<text x="259.6" y="648" textLength="58.6" lengthAdjust="spacingAndGlyphs">modprobe</text>
<text x="279.6" y="660" textLength="58.6" lengthAdjust="spacingAndGlyphs">modprobe</text>
<text x="256.6" y="672" textLength="58.6" lengthAdjust="spacingAndGlyphs">modprobe</text>
<text x="250.7" y="684" textLength="58.6" lengthAdjust="spacingAndGlyphs">modprobe</text>
<text x="270.5" y="696" textLength="12.9" lengthAdjust="spacingAndGlyphs">sh</text>
<text x="298.6" y="708" textLength="58.6" lengthAdjust="spacingAndGlyphs">modprobe</text>
<text x="298.6" y="720" textLength="12.9" lengthAdjust="spacingAndGlyphs">sh</text>
<text x="298.6" y="732" textLength="58.6" lengthAdjust="spacingAndGlyphs">modprobe</text>
<text x="291.6" y="744" textLength="12.9" lengthAdjust="spacingAndGlyphs">sh</text>
<text x="291.6" y="756" textLength="58.6" lengthAdjust="spacingAndGlyphs">modprobe</text>
<text x="256.6" y="768" textLength="58.6" lengthAdjust="spacingAndGlyphs">modprobe</text>
<text x="250.7" y="780" textLength="58.6" lengthAdjust="spacingAndGlyphs">modprobe</text>
<text x="272.0" y="792" textLength="12.9" lengthAdjust="spacingAndGlyphs">sh</text>
<text x="301.6" y="804" textLength="58.6" lengthAdjust="spacingAndGlyphs">modprobe</text>
<text x="296.6" y="816" textLength="12.9" lengthAdjust="spacingAndGlyphs">sh</text>
<text x="295.6" y="828" textLength="58.6" lengthAdjust="spacingAndGlyphs">modprobe</text>
<text x="292.6" y="840" textLength="12.9" lengthAdjust="spacingAndGlyphs">sh</text>
<text x="292.6" y="852" textLength="58.6" lengthAdjust="spacingAndGlyphs">modprobe</text>
<text x="239.6" y="864" textLength="37.0" lengthAdjust="spacingAndGlyphs">usb_id</text>
<text x="300.6" y="876" textLength="58.6" lengthAdjust="spacingAndGlyphs">modprobe</text>
<text x="239.6" y="888" textLength="37.0" lengthAdjust="spacingAndGlyphs">usb_id</text>
<text x="239.6" y="900" textLength="37.0" lengthAdjust="spacingAndGlyphs">usb_id</text>
<text x="239.6" y="912" textLength="37.0" lengthAdjust="spacingAndGlyphs">usb_id</text>
<text x="239.6" y="924" textLength="37.0" lengthAdjust="spacingAndGlyphs">usb_id</text>
<text x="239.6" y="936" textLength="37.0" lengthAdjust="spacingAndGlyphs">usb_id</text>
<text x="239.6" y="948" textLength="37.0" lengthAdjust="spacingAndGlyphs">usb_id</text>
<text x="239.6" y="960" textLength="37.0" lengthAdjust="spacingAndGlyphs">usb_id</text>
<text x="266.6" y="972" textLength="58.6" lengthAdjust="spacingAndGlyphs">modprobe</text>
<text x="243.6" y="984" textLength="39.3" lengthAdjust="spacingAndGlyphs">pci–db</text>
<text x="239.6" y="996" textLength="35.0" lengthAdjust="spacingAndGlyphs">ata_id</text>
<text x="254.6" y="1008" textLength="58.6" lengthAdjust="spacingAndGlyphs">modprobe</text>
<text x="239.6" y="1020" textLength="53.1" lengthAdjust="spacingAndGlyphs">cdrom_id</text>
<text x="259.1" y="1032" textLength="27.9" lengthAdjust="spacingAndGlyphs">blkid</text>
<text x="239.6" y="1044" textLength="27.9" lengthAdjust="spacingAndGlyphs">blkid</text>
<text x="239.6" y="1056" textLength="27.9" lengthAdjust="spacingAndGlyphs">blkid</text>
<text x="239.6" y="1068" textLength="27.9" lengthAdjust="spacingAndGlyphs">blkid</text>
<text x="239.6" y="1080" textLength="27.9" lengthAdjust="spacingAndGlyphs">blkid</text>
<text x="239.6" y="1092" textLength="27.9" lengthAdjust="spacingAndGlyphs">blkid</text>
<text x="239.6" y="1104" textLength="27.9" lengthAdjust="spacingAndGlyphs">blkid</text>
<text x="239.6" y="1116" textLength="27.9" lengthAdjust="spacingAndGlyphs">blkid</text>
<text x="239.6" y="1128" textLength="27.9" lengthAdjust="spacingAndGlyphs">blkid</text>
<text x="239.6" y="1140" textLength="35.1" lengthAdjust="spacingAndGlyphs">udevd</text>
<text x="239.6" y="1152" textLength="35.1" lengthAdjust="spacingAndGlyphs">udevd</text>
<text x="239.6" y="1164" textLength="35.1" lengthAdjust="spacingAndGlyphs">udevd</text>
<text x="239.6" y="1176" textLength="35.1" lengthAdjust="spacingAndGlyphs">udevd</text>
<text x="239.6" y="1188" textLength="27.9" lengthAdjust="spacingAndGlyphs">blkid</text>
<text x="255.6" y="1200" textLength="58.6" lengthAdjust="spacingAndGlyphs">modprobe</text>
<text x="241.6" y="1212" textLength="98.1" lengthAdjust="spacingAndGlyphs">start–stop–daem</text>
<text x="281.6" y="1224" textLength="58.6" lengthAdjust="spacingAndGlyphs">modprobe</text>
<text x="254.6" y="1236" textLength="58.6" lengthAdjust="spacingAndGlyphs">modprobe</text>
<text x="280.6" y="1248" textLength="58.6" lengthAdjust="spacingAndGlyphs">modprobe</text>
<text x="259.6" y="1260" textLength="27.9" lengthAdjust="spacingAndGlyphs">blkid</text>
<text x="261.6" y="1272" textLength="58.6" lengthAdjust="spacingAndGlyphs">modprobe</text>
<text x="257.6" y="1284" textLength="58.6" lengthAdjust="spacingAndGlyphs">modprobe</text>
<text x="257.6" y="1296" textLength="58.6" lengthAdjust="spacingAndGlyphs">modprobe</text>
<text x="257.6" y="1308" textLength="58.6" lengthAdjust="spacingAndGlyphs">modprobe</text>
<text x="288.6" y="1320" textLength="58.6" lengthAdjust="spacingAndGlyphs">modprobe</text>
<text x="306.6" y="1332" textLength="92.9" lengthAdjust="spacingAndGlyphs">devkit–disks–pa</text>
<text x="267.6" y="1344" textLength="44.9" lengthAdjust="spacingAndGlyphs">keymap</text>
<text x="314.6" y="1356" textLength="97.1" lengthAdjust="spacingAndGlyphs">udev–configure–</text>
<text x="291.6" y="1368" textLength="25.2" lengthAdjust="spacingAndGlyphs">crda</text>
<text x="312.6" y="1380" textLength="90.7" lengthAdjust="spacingAndGlyphs">devkit–disks–pr</text>
<text x="315.6" y="1392" textLength="27.9" lengthAdjust="spacingAndGlyphs">blkid</text>
<text x="320.6" y="1404" textLength="27.9" lengthAdjust="spacingAndGlyphs">blkid</text>
<text x="331.6" y="1416" textLength="27.9" lengthAdjust="spacingAndGlyphs">blkid</text>
<text x="315.6" y="1428" textLength="27.9" lengthAdjust="spacingAndGlyphs">blkid</text>
<text x="317.6" y="1440" textLength="27.9" lengthAdjust="spacingAndGlyphs">blkid</text>
<text x="317.6" y="1452" textLength="72.6" lengthAdjust="spacingAndGlyphs">fstab_import</text>
<text x="317.6" y="1464" textLength="72.6" lengthAdjust="spacingAndGlyphs">fstab_import</text>
<text x="335.6" y="1476" textLength="35.1" lengthAdjust="spacingAndGlyphs">udevd</text>
<text x="335.6" y="1488" textLength="35.1" lengthAdjust="spacingAndGlyphs">udevd</text>
<text x="441.6" y="1500" textLength="27.9" lengthAdjust="spacingAndGlyphs">blkid</text>
<text x="245.5" y="1512" textLength="12.9" lengthAdjust="spacingAndGlyphs">sh</text>
<text x="239.6" y="1524" textLength="26.2" lengthAdjust="spacingAndGlyphs">grep</text>
<text x="246.5" y="1536" textLength="12.9" lengthAdjust="spacingAndGlyphs">sh</text>
<text x="279.6" y="1548" textLength="58.6" lengthAdjust="spacingAndGlyphs">modprobe</text>
<text x="254.5" y="1560" textLength="53.0" lengthAdjust="spacingAndGlyphs">udevadm</text>
<text x="253.9" y="1572" textLength="22.1" lengthAdjust="spacingAndGlyphs">ifup</text>
<text x="260.0" y="1584" textLength="12.9" lengthAdjust="spacingAndGlyphs">sh</text>
<text x="259.6" y="1596" textLength="55.9" lengthAdjust="spacingAndGlyphs">run–parts</text>
<text x="267.6" y="1608" textLength="42.9" lengthAdjust="spacingAndGlyphs">ifconfig</text>
<text x="295.6" y="1620" textLength="55.9" lengthAdjust="spacingAndGlyphs">run–parts</text>
<text x="287.6" y="1632" textLength="40.5" lengthAdjust="spacingAndGlyphs">ethtool</text>
<text x="271.6" y="1644" textLength="20.4" lengthAdjust="spacingAndGlyphs">env</text>
<text x="287.6" y="1656" textLength="22.9" lengthAdjust="spacingAndGlyphs">awk</text>
<text x="291.6" y="1668" textLength="54.2" lengthAdjust="spacingAndGlyphs">mountnfs</text>
<text x="291.6" y="1680" textLength="33.0" lengthAdjust="spacingAndGlyphs">egrep</text>
<text x="293.6" y="1692" textLength="55.9" lengthAdjust="spacingAndGlyphs">run–parts</text>
<text x="500.2" y="1704" textLength="81.5" lengthAdjust="spacingAndGlyphs">dbus–daemon</text>
<text x="488.6" y="1716" textLength="94.0" lengthAdjust="spacingAndGlyphs">console–kit–dae</text>
<text x="618.2" y="1728" textLength="101.6" lengthAdjust="spacingAndGlyphs">modem–manager</text>
<text x="653.5" y="1740" textLength="89.0" lengthAdjust="spacingAndGlyphs">wpa_supplicant</text>
<text x="365.3" y="1752" textLength="54.5" lengthAdjust="spacingAndGlyphs">alsa–utils</text>
<text x="375.0" y="1764" textLength="36.9" lengthAdjust="spacingAndGlyphs">alsactl</text>
<text x="473.6" y="1776" textLength="84.5" lengthAdjust="spacingAndGlyphs">avahi–daemon</text>
<text x="447.6" y="1788" textLength="12.9" lengthAdjust="spacingAndGlyphs">sh</text>
<text x="626.1" y="1800" textLength="24.8" lengthAdjust="spacingAndGlyphs">hald</text>
<text x="631.9" y="1812" textLength="70.3" lengthAdjust="spacingAndGlyphs">hald–runner</text>
<text x="530.6" y="1824" textLength="103.3" lengthAdjust="spacingAndGlyphs">hal–system–powe</text>
<text x="526.6" y="1836" textLength="100.6" lengthAdjust="spacingAndGlyphs">pm–is–supported</text>
<text x="560.6" y="1848" textLength="99.0" lengthAdjust="spacingAndGlyphs">debian–setup–ke</text>
<text x="560.6" y="1860" textLength="92.1" lengthAdjust="spacingAndGlyphs">hal–set–propert</text>
<text x="644.7" y="1872" textLength="94.5" lengthAdjust="spacingAndGlyphs">hald–addon–rfki</text>
<text x="560.6" y="1884" textLength="99.0" lengthAdjust="spacingAndGlyphs">debian–setup–ke</text>
<text x="560.6" y="1896" textLength="92.1" lengthAdjust="spacingAndGlyphs">hal–set–propert</text>
<text x="556.6" y="1908" textLength="98.4" lengthAdjust="spacingAndGlyphs">hald–probe–inpu</text>
<text x="560.6" y="1920" textLength="99.0" lengthAdjust="spacingAndGlyphs">debian–setup–ke</text>
<text x="560.6" y="1932" textLength="92.1" lengthAdjust="spacingAndGlyphs">hal–set–propert</text>
<text x="555.6" y="1944" textLength="97.0" lengthAdjust="spacingAndGlyphs">hald–probe–vide</text>
<text x="555.6" y="1956" textLength="95.1" lengthAdjust="spacingAndGlyphs">hald–probe–stor</text>
<text x="560.6" y="1968" textLength="99.0" lengthAdjust="spacingAndGlyphs">debian–setup–ke</text>
<text x="560.6" y="1980" textLength="92.1" lengthAdjust="spacingAndGlyphs">hal–set–propert</text>
<text x="641.0" y="1992" textLength="104.0" lengthAdjust="spacingAndGlyphs">hald–addon–gene</text>
<text x="643.0" y="2004" textLength="101.0" lengthAdjust="spacingAndGlyphs">hald–addon–inpu</text>
<text x="560.6" y="2016" textLength="92.0" lengthAdjust="spacingAndGlyphs">hal–storage–cle</text>
<text x="560.6" y="2028" textLength="97.2" lengthAdjust="spacingAndGlyphs">hald–probe–volu</text>
<text x="646.6" y="2040" textLength="97.8" lengthAdjust="spacingAndGlyphs">hald–addon–stor</text>
<text x="646.0" y="2052" textLength="100.9" lengthAdjust="spacingAndGlyphs">hald–addon–cpuf</text>
<text x="646.7" y="2064" textLength="99.7" lengthAdjust="spacingAndGlyphs">hald–addon–acpi</text>
<text x="533.6" y="2076" textLength="53.0" lengthAdjust="spacingAndGlyphs">udevadm</text>
<text x="471.5" y="2088" textLength="12.9" lengthAdjust="spacingAndGlyphs">sh</text>
<text x="468.0" y="2100" textLength="11.0" lengthAdjust="spacingAndGlyphs">rc</text>
<text x="447.6" y="2112" textLength="21.1" lengthAdjust="spacingAndGlyphs">stty</text>
<text x="466.6" y="2124" textLength="77.5" lengthAdjust="spacingAndGlyphs">S02bootchart</text>
<text x="469.6" y="2136" textLength="11.0" lengthAdjust="spacingAndGlyphs">rc</text>
<text x="471.6" y="2148" textLength="87.2" lengthAdjust="spacingAndGlyphs">S13pcmciautils</text>
<text x="472.6" y="2160" textLength="9.0" lengthAdjust="spacingAndGlyphs">ls</text>
<text x="486.6" y="2172" textLength="77.7" lengthAdjust="spacingAndGlyphs">S37apparmor</text>
<text x="484.6" y="2184" textLength="23.7" lengthAdjust="spacingAndGlyphs">tput</text>
<text x="487.6" y="2196" textLength="88.2" lengthAdjust="spacingAndGlyphs">S37udev–finish</text>
<text x="493.6" y="2208" textLength="42.8" lengthAdjust="spacingAndGlyphs">S39ufw</text>
<text x="500.6" y="2220" textLength="86.6" lengthAdjust="spacingAndGlyphs">S47lm–sensors</text>
<text x="502.6" y="2232" textLength="42.8" lengthAdjust="spacingAndGlyphs">sensors</text>
<text x="505.6" y="2244" textLength="73.3" lengthAdjust="spacingAndGlyphs">S55urandom</text>
<text x="512.6" y="2256" textLength="97.5" lengthAdjust="spacingAndGlyphs">S70screen–clean</text>
<text x="510.6" y="2268" textLength="97.5" lengthAdjust="spacingAndGlyphs">S70screen–clean</text>
<text x="511.6" y="2280" textLength="21.6" lengthAdjust="spacingAndGlyphs">stat</text>
<text x="468.6" y="2292" textLength="17.4" lengthAdjust="spacingAndGlyphs">mv</text>
<text x="615.2" y="2304" textLength="47.5" lengthAdjust="spacingAndGlyphs">rsyslogd</text>
<text x="634.6" y="2316" textLength="14.7" lengthAdjust="spacingAndGlyphs">dd</text>
<text x="609.2" y="2328" textLength="84.5" lengthAdjust="spacingAndGlyphs">avahi–daemon</text>
<text x="504.6" y="2340" textLength="99.2" lengthAdjust="spacingAndGlyphs">NetworkManager</text>
<text x="614.5" y="2352" textLength="94.0" lengthAdjust="spacingAndGlyphs">console–kit–dae</text>
<text x="618.9" y="2364" textLength="99.2" lengthAdjust="spacingAndGlyphs">NetworkManager</text>
<text x="705.9" y="2376" textLength="46.2" lengthAdjust="spacingAndGlyphs">dhclient</text>
<text x="629.6" y="2388" textLength="97.0" lengthAdjust="spacingAndGlyphs">nm–dhcp–client.</text>
<text x="659.2" y="2400" textLength="29.6" lengthAdjust="spacingAndGlyphs">getty</text>
<text x="668.5" y="2412" textLength="11.0" lengthAdjust="spacingAndGlyphs">rc</text>
<text x="660.2" y="2424" textLength="29.6" lengthAdjust="spacingAndGlyphs">getty</text>
<text x="523.6" y="2436" textLength="25.3" lengthAdjust="spacingAndGlyphs">cron</text>
<text x="534.6" y="2448" textLength="61.3" lengthAdjust="spacingAndGlyphs">S00kdump</text>
<text x="534.6" y="2460" textLength="32.7" lengthAdjust="spacingAndGlyphs">kexec</text>
<text x="660.7" y="2472" textLength="29.6" lengthAdjust="spacingAndGlyphs">getty</text>
<text x="521.6" y="2484" textLength="46.3" lengthAdjust="spacingAndGlyphs">anacron</text>
<text x="661.2" y="2496" textLength="29.6" lengthAdjust="spacingAndGlyphs">getty</text>
<text x="534.6" y="2508" textLength="12.9" lengthAdjust="spacingAndGlyphs">sh</text>
<text x="534.6" y="2520" textLength="43.4" lengthAdjust="spacingAndGlyphs">savelog</text>
<text x="524.6" y="2532" textLength="25.5" lengthAdjust="spacingAndGlyphs">date</text>
<text x="528.6" y="2544" textLength="47.3" lengthAdjust="spacingAndGlyphs">dirname</text>
<text x="532.6" y="2556" textLength="23.9" lengthAdjust="spacingAndGlyphs">gzip</text>
<text x="523.6" y="2568" textLength="18.8" lengthAdjust="spacingAndGlyphs">atd</text>
<text x="523.6" y="2580" textLength="46.3" lengthAdjust="spacingAndGlyphs">anacron</text>
<text x="665.4" y="2592" textLength="25.3" lengthAdjust="spacingAndGlyphs">cron</text>
<text x="668.6" y="2604" textLength="18.8" lengthAdjust="spacingAndGlyphs">atd</text>
<text x="537.6" y="2616" textLength="53.1" lengthAdjust="spacingAndGlyphs">S10acpid</text>
<text x="669.4" y="2628" textLength="31.2" lengthAdjust="spacingAndGlyphs">acpid</text>
<text x="554.6" y="2640" textLength="40.5" lengthAdjust="spacingAndGlyphs">S16ssh</text>
<text x="547.6" y="2652" textLength="40.5" lengthAdjust="spacingAndGlyphs">S16ssh</text>
<text x="547.6" y="2664" textLength="26.0" lengthAdjust="spacingAndGlyphs">sshd</text>
<text x="547.6" y="2676" textLength="26.2" lengthAdjust="spacingAndGlyphs">grep</text>
<text x="554.6" y="2688" textLength="26.0" lengthAdjust="spacingAndGlyphs">sshd</text>
<text x="680.5" y="2700" textLength="26.0" lengthAdjust="spacingAndGlyphs">sshd</text>
<text x="561.6" y="2712" textLength="69.2" lengthAdjust="spacingAndGlyphs">S19tpconfig</text>
<text x="562.6" y="2724" textLength="47.3" lengthAdjust="spacingAndGlyphs">tpconfig</text>
<text x="572.4" y="2736" textLength="27.2" lengthAdjust="spacingAndGlyphs">bash</text>
<text x="575.6" y="2748" textLength="88.2" lengthAdjust="spacingAndGlyphs">vmware–config</text>
<text x="581.4" y="2760" textLength="27.2" lengthAdjust="spacingAndGlyphs">bash</text>
<text x="618.6" y="2772" textLength="104.8" lengthAdjust="spacingAndGlyphs">vmware–networks</text>
<text x="604.6" y="2784" textLength="79.1" lengthAdjust="spacingAndGlyphs">vmnet–dhcpd</text>
<text x="611.6" y="2796" textLength="79.8" lengthAdjust="spacingAndGlyphs">vmnet–detect</text>
<text x="667.3" y="2808" textLength="80.4" lengthAdjust="spacingAndGlyphs">vmnet–bridge</text>
<text x="679.9" y="2820" textLength="79.1" lengthAdjust="spacingAndGlyphs">vmnet–dhcpd</text>
<text x="677.4" y="2832" textLength="84.2" lengthAdjust="spacingAndGlyphs">vmnet–netifup</text>
<text x="680.9" y="2844" textLength="79.1" lengthAdjust="spacingAndGlyphs">vmnet–dhcpd</text>
<text x="686.2" y="2856" textLength="69.5" lengthAdjust="spacingAndGlyphs">vmnet–natd</text>
<text x="679.4" y="2868" textLength="84.2" lengthAdjust="spacingAndGlyphs">vmnet–netifup</text>
<text x="617.6" y="2880" textLength="79.8" lengthAdjust="spacingAndGlyphs">vmnet–detect</text>
<text x="627.6" y="2892" textLength="59.7" lengthAdjust="spacingAndGlyphs">S20apport</text>
<text x="683.6" y="2904" textLength="70.7" lengthAdjust="spacingAndGlyphs">S20couchdb</text>
<text x="647.0" y="2916" textLength="12.9" lengthAdjust="spacingAndGlyphs">su</text>
<text x="683.6" y="2928" textLength="48.9" lengthAdjust="spacingAndGlyphs">couchdb</text>
<text x="679.6" y="2940" textLength="92.8" lengthAdjust="spacingAndGlyphs">xulrunner–1.9.1</text>
<text x="679.6" y="2952" textLength="84.3" lengthAdjust="spacingAndGlyphs">run–mozilla.sh</text>
<text x="679.6" y="2964" textLength="80.4" lengthAdjust="spacingAndGlyphs">xulrunner–bin</text>
<text x="683.6" y="2976" textLength="22.1" lengthAdjust="spacingAndGlyphs">find</text>
<text x="734.1" y="2988" textLength="48.9" lengthAdjust="spacingAndGlyphs">couchdb</text>
<text x="729.6" y="3000" textLength="59.9" lengthAdjust="spacingAndGlyphs">beam.smp</text>
<text x="747.9" y="3012" textLength="30.1" lengthAdjust="spacingAndGlyphs">heart</text>
<text x="691.6" y="3024" textLength="85.7" lengthAdjust="spacingAndGlyphs">S20qemu–kvm</text>
<text x="692.6" y="3036" textLength="58.6" lengthAdjust="spacingAndGlyphs">modprobe</text>
<text x="714.2" y="3048" textLength="96.7" lengthAdjust="spacingAndGlyphs">nm–dispatcher.a</text>
<text x="725.6" y="3060" textLength="55.9" lengthAdjust="spacingAndGlyphs">run–parts</text>
<text x="700.6" y="3072" textLength="82.0" lengthAdjust="spacingAndGlyphs">avahi–autoipd</text>
<text x="700.6" y="3084" textLength="10.7" lengthAdjust="spacingAndGlyphs">ip</text>
<text x="700.6" y="3096" textLength="26.2" lengthAdjust="spacingAndGlyphs">grep</text>
<text x="723.6" y="3108" textLength="105.7" lengthAdjust="spacingAndGlyphs">avahi–daemon–ch</text>
<text x="723.6" y="3120" textLength="24.5" lengthAdjust="spacingAndGlyphs">host</text>
<text x="725.6" y="3132" textLength="67.2" lengthAdjust="spacingAndGlyphs">S20winbind</text>
<text x="725.6" y="3144" textLength="52.7" lengthAdjust="spacingAndGlyphs">winbindd</text>
<text x="743.6" y="3156" textLength="44.7" lengthAdjust="spacingAndGlyphs">ntpdate</text>
<text x="743.6" y="3168" textLength="80.8" lengthAdjust="spacingAndGlyphs">lockfile–touch</text>
<text x="742.6" y="3180" textLength="44.7" lengthAdjust="spacingAndGlyphs">ntpdate</text>
<text x="753.6" y="3192" textLength="52.7" lengthAdjust="spacingAndGlyphs">winbindd</text>
<text x="733.6" y="3204" textLength="49.6" lengthAdjust="spacingAndGlyphs">S26gpsd</text>
<text x="735.6" y="3216" textLength="27.8" lengthAdjust="spacingAndGlyphs">gpsd</text>
<text x="770.1" y="3228" textLength="27.8" lengthAdjust="spacingAndGlyphs">gpsd</text>
<text x="741.6" y="3240" textLength="29.9" lengthAdjust="spacingAndGlyphs">sleep</text>
<text x="764.6" y="3252" textLength="47.6" lengthAdjust="spacingAndGlyphs">S30gdm</text>
<text x="766.6" y="3264" textLength="29.9" lengthAdjust="spacingAndGlyphs">sleep</text>
<text x="752.9" y="3276" textLength="69.2" lengthAdjust="spacingAndGlyphs">gdm–binary</text>
<text x="633.0" y="3288" textLength="100.6" lengthAdjust="spacingAndGlyphs">gdm–simple–slav</text>
<text x="775.2" y="3300" textLength="26.7" lengthAdjust="spacingAndGlyphs">Xorg</text>
<text x="804.7" y="3312" textLength="12.9" lengthAdjust="spacingAndGlyphs">sh</text>
<text x="765.7" y="3324" textLength="51.9" lengthAdjust="spacingAndGlyphs">xkbcomp</text>
<text x="710.1" y="3336" textLength="48.5" lengthAdjust="spacingAndGlyphs">S50cups</text>
<text x="784.0" y="3348" textLength="34.0" lengthAdjust="spacingAndGlyphs">cupsd</text>
<text x="703.3" y="3360" textLength="80.3" lengthAdjust="spacingAndGlyphs">S70dns–clean</text>
<text x="685.8" y="3372" textLength="101.8" lengthAdjust="spacingAndGlyphs">S90binfmt–suppo</text>
<text x="696.5" y="3384" textLength="91.1" lengthAdjust="spacingAndGlyphs">update–binfmts</text>
<text x="756.0" y="3396" textLength="58.6" lengthAdjust="spacingAndGlyphs">modprobe</text>
<text x="722.4" y="3408" textLength="97.2" lengthAdjust="spacingAndGlyphs">S99acpi–support</text>
<text x="766.5" y="3420" textLength="52.1" lengthAdjust="spacingAndGlyphs">power.sh</text>
<text x="731.6" y="3432" textLength="87.0" lengthAdjust="spacingAndGlyphs">pm–powersave</text>
<text x="729.1" y="3444" textLength="92.5" lengthAdjust="spacingAndGlyphs">95hdparm–apm</text>
<text x="768.7" y="3456" textLength="60.9" lengthAdjust="spacingAndGlyphs">ondemand</text>
<text x="799.7" y="3468" textLength="29.9" lengthAdjust="spacingAndGlyphs">sleep</text>
<text x="397.8" y="3480" textLength="51.3" lengthAdjust="spacingAndGlyphs">kthreadd</text>
<text x="403.6" y="3492" textLength="42.7" lengthAdjust="spacingAndGlyphs">khelper</text>
<text x="301.6" y="3504" textLength="58.6" lengthAdjust="spacingAndGlyphs">modprobe</text>
<text x="405.8" y="3516" textLength="41.4" lengthAdjust="spacingAndGlyphs">kseriod</text>
<text x="407.3" y="3528" textLength="42.4" lengthAdjust="spacingAndGlyphs">pdflush</text>
<text x="63.6" y="3540" textLength="44.7" lengthAdjust="spacingAndGlyphs">async/0</text>
<text x="61.6" y="3552" textLength="44.7" lengthAdjust="spacingAndGlyphs">async/1</text>
<text x="27.6" y="3564" textLength="44.7" lengthAdjust="spacingAndGlyphs">async/2</text>
<text x="27.6" y="3576" textLength="44.7" lengthAdjust="spacingAndGlyphs">async/3</text>
<text x="27.6" y="3588" textLength="44.7" lengthAdjust="spacingAndGlyphs">async/4</text>
<text x="470.4" y="3600" textLength="61.2" lengthAdjust="spacingAndGlyphs">kjournald2</text>
<text x="512.3" y="3612" textLength="70.4" lengthAdjust="spacingAndGlyphs">sony–laptop</text>
<text x="517.7" y="3624" textLength="64.7" lengthAdjust="spacingAndGlyphs">kpsmoused</text>
<text x="301.6" y="3636" textLength="76.5" lengthAdjust="spacingAndGlyphs">work_for_cpu</text>
<text x="546.7" y="3648" textLength="37.6" lengthAdjust="spacingAndGlyphs">iwlagn</text>
<text x="551.2" y="3660" textLength="28.5" lengthAdjust="spacingAndGlyphs">phy0</text>
<text x="302.6" y="3672" textLength="98.6" lengthAdjust="spacingAndGlyphs">cryptomgr_probe</text>
<text x="331.6" y="3684" textLength="76.5" lengthAdjust="spacingAndGlyphs">work_for_cpu</text>
<text x="538.2" y="3696" textLength="61.6" lengthAdjust="spacingAndGlyphs">hd–audio0</text>
<text x="551.7" y="3708" textLength="61.6" lengthAdjust="spacingAndGlyphs">hd–audio1</text>
<text x="552.9" y="3720" textLength="61.2" lengthAdjust="spacingAndGlyphs">kjournald2</text>
</g>
<rect x="10.5" y="290.5" width="828" height="3432" fill="none" stroke="#a1a1a1"/>
</svg>
</body></html>
